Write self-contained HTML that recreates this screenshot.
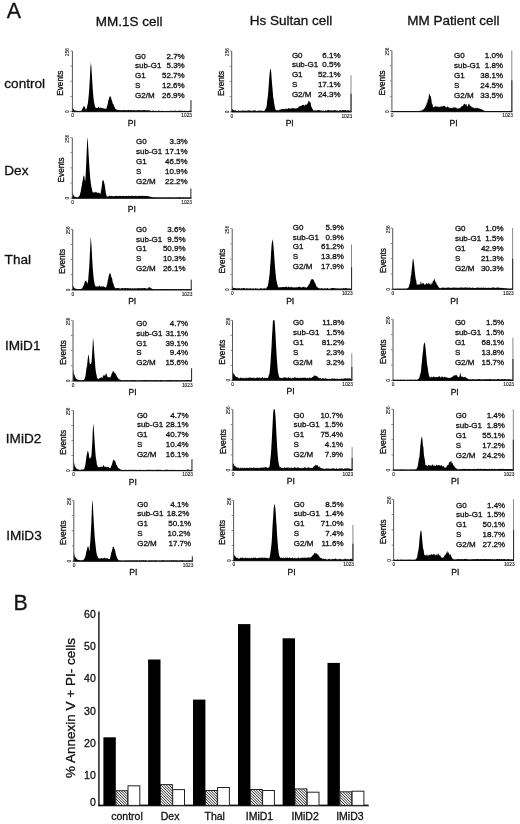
<!DOCTYPE html>
<html><head><meta charset="utf-8"><style>
html,body{margin:0;padding:0;background:#fff;}
svg{display:block;filter:blur(0.3px);}
text{font-family:"Liberation Sans",sans-serif;fill:#111;stroke:#111;stroke-width:0.3px;}
text.t{stroke-width:0.1px;}
</style></head><body>
<svg width="520" height="824" viewBox="0 0 520 824">
<defs>
<pattern id="hatch" patternUnits="userSpaceOnUse" width="1.95" height="1.95" patternTransform="rotate(-45)">
<rect width="1.95" height="1.95" fill="#fff"/><rect x="0" y="0" width="0.85" height="1.95" fill="#222"/>
</pattern>
</defs>

<text transform="translate(6.8,18.3) scale(0.93,1)" font-size="23">A</text>
<text transform="translate(13.6,609.9) scale(0.93,1)" font-size="23">B</text>
<text x="129.2" y="25.6" font-size="13.5" text-anchor="middle">MM.1S cell</text>
<text x="291" y="25.4" font-size="13.5" text-anchor="middle">Hs Sultan cell</text>
<text x="453.4" y="25.2" font-size="13.5" text-anchor="middle">MM Patient cell</text>
<text x="4.3" y="88.2" font-size="13.6">control</text>
<text x="4.3" y="175.2" font-size="13.6">Dex</text>
<text x="4.6" y="264.0" font-size="13.6">Thal</text>
<text x="5.0" y="350.2" font-size="13.6">IMiD1</text>
<text x="5.8" y="442.7" font-size="13.6">IMiD2</text>
<text x="6.2" y="539.8" font-size="13.6">IMiD3</text>
<path d="M72.4,111.6 L72.4,106.8 L72.9,108.0 L73.4,109.1 L73.9,109.4 L74.4,110.4 L74.9,110.3 L75.4,110.8 L75.9,110.5 L76.4,110.5 L76.9,111.0 L77.4,110.8 L77.9,110.9 L78.4,110.9 L78.9,111.0 L79.4,110.9 L79.9,111.0 L80.4,110.8 L80.9,111.0 L81.4,110.4 L81.9,110.0 L82.4,108.6 L82.9,108.3 L83.4,106.5 L83.9,105.9 L84.0,105.8 L84.4,106.7 L84.9,106.9 L85.4,108.5 L85.9,109.9 L86.4,108.7 L86.9,107.8 L87.4,105.3 L87.9,103.0 L88.4,98.5 L88.9,93.2 L89.4,86.3 L89.9,78.2 L90.4,67.5 L90.9,62.1 L91.4,67.5 L91.9,75.6 L92.4,83.7 L92.9,90.9 L93.4,96.7 L93.9,101.5 L94.4,103.7 L94.9,106.0 L95.4,107.6 L95.9,107.7 L96.4,107.9 L96.9,108.0 L97.4,108.0 L97.9,107.7 L98.4,106.9 L98.5,106.5 L98.9,107.0 L99.4,108.4 L99.9,108.0 L100.4,107.4 L100.9,107.4 L101.4,107.8 L101.9,108.0 L102.4,108.5 L102.9,107.9 L103.4,108.2 L103.9,108.4 L104.4,108.4 L104.9,108.8 L105.4,108.7 L105.9,109.1 L106.4,108.4 L106.9,106.8 L107.4,105.2 L107.9,102.9 L108.4,100.1 L108.9,99.5 L109.4,97.1 L109.8,96.5 L109.9,95.7 L110.4,96.8 L110.9,97.1 L111.4,99.3 L111.9,100.5 L112.4,102.1 L112.9,104.2 L113.4,103.7 L113.9,105.9 L114.4,106.8 L114.9,107.6 L115.4,108.9 L115.9,109.2 L116.4,109.2 L116.9,110.1 L117.4,109.8 L117.9,110.1 L118.4,110.3 L118.9,110.1 L119.4,110.3 L119.9,110.1 L120.4,110.2 L120.9,110.0 L121.4,110.4 L121.9,110.3 L122.4,109.9 L122.9,110.3 L123.4,109.9 L123.9,110.2 L124.4,110.0 L124.9,109.9 L125.4,110.1 L125.9,110.4 L126.4,110.2 L126.9,110.0 L127.4,110.2 L127.9,110.3 L128.4,110.0 L128.9,109.8 L129.4,110.2 L129.9,110.5 L130.4,110.0 L130.9,109.9 L131.4,110.1 L131.9,110.2 L132.4,110.3 L132.9,110.4 L133.4,110.0 L133.9,110.1 L134.4,110.0 L134.9,110.4 L135.4,110.4 L135.9,110.0 L136.4,110.4 L136.9,110.1 L137.4,110.4 L137.9,110.0 L138.4,110.0 L138.9,109.9 L139.4,110.2 L139.9,110.2 L140.4,110.1 L140.9,110.5 L141.4,110.2 L141.9,110.2 L142.4,110.4 L142.9,109.8 L143.4,110.3 L143.9,110.1 L144.4,110.0 L144.9,110.0 L145.4,110.2 L145.9,110.4 L146.4,110.4 L146.9,110.2 L147.4,110.1 L147.9,110.3 L148.4,110.5 L148.9,110.2 L149.4,110.5 L149.9,110.5 L150.4,110.5 L150.9,110.9 L151.4,110.9 L151.9,111.0 L152.4,110.7 L152.9,110.6 L153.4,110.6 L153.9,110.8 L154.4,111.1 L154.9,111.0 L155.4,110.6 L155.9,111.0 L156.4,110.9 L156.9,111.0 L157.4,111.1 L157.9,111.1 L158.4,110.6 L158.9,110.6 L159.4,110.7 L159.9,111.1 L160.4,111.1 L160.9,110.8 L161.4,111.1 L161.9,110.7 L162.4,110.8 L162.9,110.9 L163.4,111.0 L163.9,111.1 L164.4,110.9 L164.9,111.1 L165.4,111.1 L165.9,111.0 L166.4,110.9 L166.9,110.8 L167.4,111.2 L167.9,110.9 L168.4,110.9 L168.9,110.7 L169.4,110.9 L169.9,111.0 L170.4,110.8 L170.9,110.6 L171.4,110.8 L171.9,111.1 L172.4,110.7 L172.9,110.7 L173.4,111.0 L173.9,110.7 L174.4,110.8 L174.9,110.8 L175.4,110.6 L175.9,110.8 L176.4,111.0 L176.9,110.8 L177.4,111.1 L177.9,110.7 L178.4,110.9 L178.9,110.7 L179.4,110.6 L179.9,110.8 L180.4,110.6 L180.9,111.1 L181.4,110.7 L181.9,110.8 L182.4,110.6 L182.9,110.9 L183.4,110.9 L183.9,111.0 L184.4,110.6 L184.9,111.1 L185.4,110.9 L185.9,111.0 L186.4,110.7 L186.9,111.1 L187.4,111.2 L187.9,110.8 L188.4,111.0 L188.9,110.8 L189.4,110.8 L189.9,110.8 L190.4,110.7 L190.9,110.8 L191.4,110.7 L191.4,111.6 Z" fill="#000"/>
<rect x="190.4" y="100.1" width="1.1" height="11.5" fill="#333"/>
<rect x="71.9" y="50.9" width="1" height="60.7" fill="#555"/>
<rect x="71.9" y="111.0" width="119.5" height="1.2" fill="#111"/>
<rect x="70.4" y="50.5" width="1.5" height="0.8" fill="#666"/>
<rect x="70.4" y="65.7" width="1.5" height="0.8" fill="#666"/>
<rect x="70.4" y="80.8" width="1.5" height="0.8" fill="#666"/>
<rect x="70.4" y="96.0" width="1.5" height="0.8" fill="#666"/>
<rect x="70.4" y="111.2" width="1.5" height="0.8" fill="#666"/>
<text class="t" font-size="4.6" transform="translate(69.4,52.1) rotate(-90)" text-anchor="middle">256</text>
<text class="t" font-size="4.8" transform="translate(69.4,111.6) rotate(-90)" text-anchor="middle">0</text>
<text class="t" font-size="4.8" x="72.6" y="117.4" text-anchor="middle">0</text>
<text class="t" font-size="4.8" x="192.0" y="117.4" text-anchor="end">1023</text>
<text font-size="8.2" transform="translate(63.4,83.2) rotate(-90)" text-anchor="middle">Events</text>
<text font-size="8.6" x="131.9" y="125.8" text-anchor="middle">PI</text>
<text font-size="8" x="135.1" y="58.5">G0</text>
<text font-size="8" x="184.7" y="58.5" text-anchor="end">2.7%</text>
<text font-size="8" x="135.1" y="68.2">sub-G1</text>
<text font-size="8" x="184.7" y="68.2" text-anchor="end">5.3%</text>
<text font-size="8" x="135.1" y="78.0">G1</text>
<text font-size="8" x="184.7" y="78.0" text-anchor="end">52.7%</text>
<text font-size="8" x="135.1" y="87.8">S</text>
<text font-size="8" x="184.7" y="87.8" text-anchor="end">12.6%</text>
<text font-size="8" x="135.1" y="97.5">G2/M</text>
<text font-size="8" x="184.7" y="97.5" text-anchor="end">26.9%</text>
<path d="M72.3,198.2 L72.3,190.5 L72.8,194.2 L73.3,194.5 L73.8,195.8 L74.3,196.2 L74.8,196.9 L75.3,197.0 L75.8,196.8 L76.3,197.2 L76.8,197.5 L77.3,197.6 L77.8,197.3 L78.3,196.7 L78.8,196.4 L79.3,196.2 L79.8,195.1 L80.3,193.0 L80.8,191.3 L81.3,188.1 L81.8,185.4 L82.3,182.3 L82.8,179.9 L83.3,176.7 L83.8,175.3 L84.0,175.7 L84.3,176.3 L84.8,180.1 L85.3,180.9 L85.8,172.2 L86.3,162.0 L86.8,149.3 L87.3,137.8 L87.4,137.6 L87.8,140.4 L88.3,149.1 L88.8,157.4 L89.3,166.1 L89.8,172.5 L90.3,179.0 L90.8,182.7 L91.3,186.6 L91.8,188.6 L92.3,191.0 L92.8,192.4 L93.3,192.3 L93.8,192.5 L94.3,192.8 L94.8,192.0 L95.3,192.5 L95.8,191.5 L96.0,192.2 L96.3,192.1 L96.8,192.6 L97.3,192.8 L97.8,193.2 L98.3,192.3 L98.8,192.9 L99.3,193.3 L99.8,192.9 L100.3,194.3 L100.8,192.0 L101.3,189.5 L101.8,185.9 L102.3,181.5 L102.8,179.9 L103.2,179.7 L103.3,180.7 L103.8,180.9 L104.3,183.6 L104.8,185.3 L105.3,189.2 L105.8,192.8 L106.3,194.9 L106.8,196.5 L107.3,196.5 L107.8,196.7 L108.3,196.6 L108.8,196.2 L109.3,195.8 L109.8,195.6 L110.3,196.2 L110.8,196.1 L111.3,195.8 L111.8,196.1 L112.3,196.0 L112.8,196.4 L113.3,196.2 L113.8,196.0 L114.3,196.3 L114.8,196.2 L115.3,196.0 L115.8,195.9 L116.3,195.8 L116.8,195.7 L117.3,196.0 L117.8,196.2 L118.3,196.0 L118.8,196.3 L119.3,195.9 L119.8,195.7 L120.3,196.0 L120.8,195.8 L121.3,196.0 L121.8,196.2 L122.3,195.7 L122.8,196.2 L123.3,196.0 L123.8,196.0 L124.3,196.2 L124.8,195.8 L125.3,196.0 L125.8,196.0 L126.3,196.0 L126.8,195.9 L127.3,196.3 L127.8,195.9 L128.3,195.6 L128.8,196.2 L129.3,195.7 L129.8,195.9 L130.3,196.0 L130.8,196.0 L131.3,196.0 L131.8,195.6 L132.3,195.6 L132.8,196.2 L133.3,196.1 L133.8,195.9 L134.3,195.7 L134.8,196.1 L135.3,195.7 L135.8,196.1 L136.3,196.4 L136.8,195.5 L137.3,196.1 L137.8,196.2 L138.3,195.8 L138.8,196.0 L139.3,196.1 L139.8,195.6 L140.3,196.1 L140.8,196.0 L141.3,195.8 L141.8,195.9 L142.3,195.6 L142.8,196.1 L143.3,196.3 L143.8,195.7 L144.3,196.1 L144.8,196.1 L145.3,195.7 L145.8,196.0 L146.3,196.0 L146.8,195.9 L147.3,195.9 L147.8,196.3 L148.3,196.3 L148.8,196.2 L149.3,196.7 L149.8,196.4 L150.3,196.6 L150.8,196.7 L151.3,196.9 L151.8,196.9 L152.3,197.0 L152.8,197.4 L153.3,197.3 L153.8,197.2 L154.3,197.3 L154.8,197.6 L155.3,197.4 L155.8,197.2 L156.3,197.7 L156.8,197.3 L157.3,197.3 L157.8,197.4 L158.3,197.6 L158.8,197.7 L159.3,197.3 L159.8,197.3 L160.3,197.5 L160.8,197.3 L161.3,197.7 L161.8,197.5 L162.3,197.6 L162.8,197.4 L163.3,197.6 L163.8,197.5 L164.3,197.3 L164.8,197.4 L165.3,197.5 L165.8,197.7 L166.3,197.6 L166.8,197.3 L167.3,197.5 L167.8,197.7 L168.3,197.5 L168.8,197.3 L169.3,197.4 L169.8,197.6 L170.3,197.6 L170.8,197.2 L171.3,197.3 L171.8,197.6 L172.3,197.7 L172.8,197.7 L173.3,197.6 L173.8,197.2 L174.3,197.4 L174.8,197.6 L175.3,197.6 L175.8,197.4 L176.3,197.6 L176.8,197.6 L177.3,197.4 L177.8,197.3 L178.3,197.3 L178.8,197.5 L179.3,197.2 L179.8,197.3 L180.3,197.2 L180.8,197.2 L181.3,197.4 L181.8,197.5 L182.3,197.7 L182.8,197.6 L183.3,197.2 L183.8,197.2 L184.3,197.7 L184.8,197.6 L185.3,197.2 L185.8,197.5 L186.3,197.6 L186.8,197.5 L187.3,197.4 L187.8,197.6 L188.3,197.7 L188.8,197.6 L189.3,197.5 L189.8,197.6 L190.3,197.6 L190.8,197.6 L191.3,197.3 L191.3,198.2 Z" fill="#000"/>
<rect x="190.3" y="188.5" width="1.1" height="9.7" fill="#333"/>
<rect x="71.8" y="137.6" width="1" height="60.6" fill="#555"/>
<rect x="71.8" y="197.6" width="119.5" height="1.2" fill="#111"/>
<rect x="70.3" y="137.2" width="1.5" height="0.8" fill="#666"/>
<rect x="70.3" y="152.3" width="1.5" height="0.8" fill="#666"/>
<rect x="70.3" y="167.5" width="1.5" height="0.8" fill="#666"/>
<rect x="70.3" y="182.6" width="1.5" height="0.8" fill="#666"/>
<rect x="70.3" y="197.8" width="1.5" height="0.8" fill="#666"/>
<text class="t" font-size="4.6" transform="translate(69.3,138.8) rotate(-90)" text-anchor="middle">256</text>
<text class="t" font-size="4.8" transform="translate(69.3,198.2) rotate(-90)" text-anchor="middle">0</text>
<text class="t" font-size="4.8" x="72.5" y="204.0" text-anchor="middle">0</text>
<text class="t" font-size="4.8" x="191.9" y="204.0" text-anchor="end">1023</text>
<text font-size="8.2" transform="translate(64.0,169.9) rotate(-90)" text-anchor="middle">Events</text>
<text font-size="8.6" x="131.8" y="212.4" text-anchor="middle">PI</text>
<text font-size="8" x="136.0" y="144.4">G0</text>
<text font-size="8" x="187.7" y="144.4" text-anchor="end">3.3%</text>
<text font-size="8" x="136.0" y="154.2">sub-G1</text>
<text font-size="8" x="187.7" y="154.2" text-anchor="end">17.1%</text>
<text font-size="8" x="136.0" y="164.0">G1</text>
<text font-size="8" x="187.7" y="164.0" text-anchor="end">46.5%</text>
<text font-size="8" x="136.0" y="173.7">S</text>
<text font-size="8" x="187.7" y="173.7" text-anchor="end">10.9%</text>
<text font-size="8" x="136.0" y="183.5">G2/M</text>
<text font-size="8" x="187.7" y="183.5" text-anchor="end">22.2%</text>
<path d="M72.7,289.9 L72.7,284.6 L73.2,286.0 L73.7,287.2 L74.2,287.8 L74.7,288.5 L75.2,288.5 L75.7,288.8 L76.2,289.1 L76.7,288.8 L77.2,288.9 L77.7,289.3 L78.2,289.1 L78.7,289.4 L79.2,289.2 L79.7,288.9 L80.2,288.9 L80.7,288.9 L81.2,288.6 L81.7,288.8 L82.2,288.4 L82.7,287.2 L83.2,286.4 L83.7,285.2 L84.2,284.0 L84.7,282.3 L85.2,281.1 L85.7,280.4 L85.8,281.2 L86.2,280.6 L86.7,281.9 L87.2,284.0 L87.7,282.4 L88.2,280.0 L88.7,273.1 L89.2,267.3 L89.7,257.9 L90.2,247.2 L90.7,237.5 L90.8,237.0 L91.2,241.4 L91.7,249.5 L92.2,258.9 L92.7,267.5 L93.2,273.2 L93.7,278.6 L94.2,281.5 L94.7,284.4 L95.2,285.7 L95.7,286.6 L96.2,286.6 L96.7,286.4 L97.2,286.4 L97.7,286.2 L98.2,286.4 L98.7,286.7 L99.2,285.4 L99.5,285.8 L99.7,285.7 L100.2,286.7 L100.7,286.6 L101.2,286.4 L101.7,286.4 L102.2,286.2 L102.7,287.1 L103.2,286.1 L103.7,286.8 L104.2,286.7 L104.7,287.1 L105.2,287.2 L105.7,287.7 L106.2,287.2 L106.7,285.4 L107.2,284.0 L107.7,280.8 L108.2,279.1 L108.7,275.9 L109.2,274.7 L109.7,272.8 L109.8,272.9 L110.2,273.8 L110.7,273.8 L111.2,276.6 L111.7,277.8 L112.2,278.8 L112.7,282.3 L113.2,282.9 L113.7,284.7 L114.2,286.6 L114.7,287.2 L115.2,288.0 L115.7,288.3 L116.2,288.4 L116.7,288.1 L117.2,287.9 L117.7,288.0 L118.2,288.3 L118.7,288.0 L119.2,288.2 L119.7,288.4 L120.2,288.6 L120.7,288.4 L121.2,288.5 L121.7,288.1 L122.2,287.9 L122.7,288.1 L123.2,288.2 L123.7,288.5 L124.2,288.2 L124.7,288.0 L125.2,288.3 L125.7,288.1 L126.2,288.1 L126.7,288.5 L127.2,288.1 L127.7,288.2 L128.2,288.0 L128.7,288.5 L129.2,288.0 L129.7,288.5 L130.2,288.3 L130.7,288.3 L131.2,288.5 L131.7,288.6 L132.2,288.6 L132.7,287.9 L133.2,288.4 L133.7,288.4 L134.2,288.2 L134.7,288.3 L135.2,288.4 L135.7,288.3 L136.2,288.3 L136.7,288.5 L137.2,288.2 L137.7,288.3 L138.2,288.1 L138.7,288.4 L139.2,288.1 L139.7,288.2 L140.2,288.4 L140.7,288.1 L141.2,288.4 L141.7,288.1 L142.2,288.2 L142.7,288.0 L143.2,288.3 L143.7,288.2 L144.2,288.0 L144.7,288.1 L145.2,288.2 L145.7,288.3 L146.2,288.6 L146.7,288.6 L147.2,288.7 L147.7,288.2 L148.2,287.7 L148.7,287.4 L149.2,287.1 L149.3,287.1 L149.7,287.6 L150.2,287.5 L150.7,288.2 L151.2,288.1 L151.7,288.8 L152.2,288.7 L152.7,289.2 L153.2,289.0 L153.7,289.2 L154.2,289.2 L154.7,289.2 L155.2,289.1 L155.7,289.2 L156.2,289.4 L156.7,289.0 L157.2,289.2 L157.7,289.1 L158.2,289.4 L158.7,289.0 L159.2,289.2 L159.7,289.0 L160.2,289.3 L160.7,289.1 L161.2,289.3 L161.7,288.9 L162.2,289.1 L162.7,289.0 L163.2,289.3 L163.7,289.4 L164.2,289.2 L164.7,289.3 L165.2,289.0 L165.7,288.9 L166.2,289.1 L166.7,289.0 L167.2,289.1 L167.7,289.0 L168.2,289.2 L168.7,288.9 L169.2,289.3 L169.7,289.0 L170.2,288.9 L170.7,289.3 L171.2,289.3 L171.7,289.1 L172.2,288.9 L172.7,289.0 L173.2,289.2 L173.7,289.4 L174.2,289.0 L174.7,289.3 L175.2,289.1 L175.7,289.3 L176.2,289.2 L176.7,289.1 L177.2,289.2 L177.7,289.4 L178.2,289.1 L178.7,288.9 L179.2,289.4 L179.7,289.2 L180.2,289.0 L180.7,289.1 L181.2,289.0 L181.7,289.0 L182.2,289.1 L182.7,289.4 L183.2,289.3 L183.7,289.1 L184.2,289.4 L184.7,289.1 L185.2,288.9 L185.7,289.4 L186.2,289.4 L186.7,289.0 L187.2,289.1 L187.7,289.2 L188.2,289.4 L188.7,289.0 L189.2,289.1 L189.7,289.3 L190.2,289.2 L190.7,289.4 L191.2,289.3 L191.7,289.3 L191.7,289.9 Z" fill="#000"/>
<rect x="190.7" y="279.6" width="1.1" height="10.3" fill="#333"/>
<rect x="72.2" y="229.2" width="1" height="60.7" fill="#555"/>
<rect x="72.2" y="289.3" width="119.5" height="1.2" fill="#111"/>
<rect x="70.7" y="228.8" width="1.5" height="0.8" fill="#666"/>
<rect x="70.7" y="244.0" width="1.5" height="0.8" fill="#666"/>
<rect x="70.7" y="259.1" width="1.5" height="0.8" fill="#666"/>
<rect x="70.7" y="274.3" width="1.5" height="0.8" fill="#666"/>
<rect x="70.7" y="289.5" width="1.5" height="0.8" fill="#666"/>
<text class="t" font-size="4.6" transform="translate(69.7,230.4) rotate(-90)" text-anchor="middle">256</text>
<text class="t" font-size="4.8" transform="translate(69.7,289.9) rotate(-90)" text-anchor="middle">0</text>
<text class="t" font-size="4.8" x="72.9" y="295.7" text-anchor="middle">0</text>
<text class="t" font-size="4.8" x="192.3" y="295.7" text-anchor="end">1023</text>
<text font-size="8.2" transform="translate(65.1,261.5) rotate(-90)" text-anchor="middle">Events</text>
<text font-size="8.6" x="132.2" y="304.1" text-anchor="middle">PI</text>
<text font-size="8" x="136.0" y="232.0">G0</text>
<text font-size="8" x="185.6" y="232.0" text-anchor="end">3.6%</text>
<text font-size="8" x="136.0" y="241.7">sub-G1</text>
<text font-size="8" x="185.6" y="241.7" text-anchor="end">9.5%</text>
<text font-size="8" x="136.0" y="251.4">G1</text>
<text font-size="8" x="185.6" y="251.4" text-anchor="end">50.9%</text>
<text font-size="8" x="136.0" y="261.1">S</text>
<text font-size="8" x="185.6" y="261.1" text-anchor="end">10.3%</text>
<text font-size="8" x="136.0" y="270.8">G2/M</text>
<text font-size="8" x="185.6" y="270.8" text-anchor="end">26.1%</text>
<path d="M73.0,381.0 L73.0,368.8 L73.5,371.8 L74.0,374.5 L74.5,374.8 L75.0,376.7 L75.5,377.8 L76.0,378.8 L76.5,378.8 L77.0,379.0 L77.5,379.7 L78.0,379.7 L78.5,379.7 L79.0,380.2 L79.5,380.0 L80.0,380.3 L80.5,380.4 L81.0,380.0 L81.5,380.3 L82.0,380.2 L82.5,380.0 L83.0,380.2 L83.5,380.0 L84.0,379.8 L84.5,379.1 L85.0,377.8 L85.5,375.4 L86.0,371.9 L86.5,367.7 L87.0,366.3 L87.5,361.3 L88.0,357.0 L88.5,354.6 L88.6,353.7 L89.0,357.5 L89.5,362.5 L90.0,363.9 L90.5,363.9 L91.0,364.0 L91.5,362.3 L92.0,356.1 L92.5,348.1 L93.0,338.0 L93.1,338.3 L93.5,341.4 L94.0,349.4 L94.5,356.6 L95.0,362.9 L95.5,368.9 L96.0,372.8 L96.5,374.8 L97.0,377.6 L97.5,378.2 L98.0,379.3 L98.5,379.0 L99.0,378.4 L99.5,378.3 L100.0,377.7 L100.5,378.0 L101.0,377.5 L101.5,377.3 L102.0,377.8 L102.5,377.8 L103.0,376.3 L103.5,375.0 L104.0,375.6 L104.2,375.3 L104.5,375.1 L105.0,376.2 L105.5,374.6 L106.0,373.6 L106.2,373.5 L106.5,373.8 L107.0,375.7 L107.5,376.9 L108.0,377.0 L108.5,377.6 L109.0,377.3 L109.5,377.3 L110.0,377.3 L110.5,377.3 L111.0,376.0 L111.5,374.0 L112.0,373.6 L112.5,371.9 L113.0,370.7 L113.3,372.5 L113.5,371.2 L114.0,371.2 L114.5,373.3 L115.0,372.8 L115.5,373.8 L116.0,374.6 L116.5,375.6 L117.0,376.7 L117.5,377.6 L118.0,377.8 L118.5,378.7 L119.0,379.5 L119.5,379.5 L120.0,379.6 L120.5,380.0 L121.0,380.0 L121.5,379.9 L122.0,380.4 L122.5,380.3 L123.0,380.3 L123.5,380.3 L124.0,380.5 L124.5,380.2 L125.0,380.3 L125.5,380.1 L126.0,380.5 L126.5,380.4 L127.0,380.1 L127.5,380.1 L128.0,380.1 L128.5,380.5 L129.0,380.4 L129.5,380.0 L130.0,380.6 L130.5,380.2 L131.0,380.1 L131.5,380.5 L132.0,380.1 L132.5,380.1 L133.0,380.2 L133.5,380.2 L134.0,380.0 L134.5,380.0 L135.0,380.1 L135.5,380.2 L136.0,380.5 L136.5,380.4 L137.0,380.5 L137.5,380.5 L138.0,380.5 L138.5,380.3 L139.0,380.4 L139.5,380.5 L140.0,380.0 L140.5,380.2 L141.0,380.4 L141.5,380.6 L142.0,380.1 L142.5,380.1 L143.0,380.5 L143.5,380.3 L144.0,380.0 L144.5,380.0 L145.0,380.2 L145.5,380.1 L146.0,380.1 L146.5,380.0 L147.0,380.2 L147.5,380.2 L148.0,380.4 L148.5,380.2 L149.0,380.0 L149.5,380.3 L150.0,380.4 L150.5,380.6 L151.0,380.2 L151.5,380.2 L152.0,380.0 L152.5,380.5 L153.0,380.0 L153.5,380.0 L154.0,380.4 L154.5,380.4 L155.0,380.0 L155.5,380.1 L156.0,380.4 L156.5,380.0 L157.0,380.1 L157.5,380.2 L158.0,380.4 L158.5,380.5 L159.0,380.5 L159.5,380.5 L160.0,380.0 L160.5,380.0 L161.0,380.1 L161.5,380.0 L162.0,380.1 L162.5,380.2 L163.0,380.2 L163.5,380.5 L164.0,380.3 L164.5,380.5 L165.0,380.4 L165.5,380.2 L166.0,380.4 L166.5,380.3 L167.0,380.1 L167.5,380.0 L168.0,380.5 L168.5,380.1 L169.0,380.2 L169.5,380.1 L170.0,380.1 L170.5,380.2 L171.0,380.0 L171.5,380.1 L172.0,380.2 L172.5,380.2 L173.0,380.4 L173.5,380.0 L174.0,380.5 L174.5,380.4 L175.0,380.2 L175.5,380.0 L176.0,380.4 L176.5,380.0 L177.0,380.0 L177.5,380.2 L178.0,380.3 L178.5,380.4 L179.0,380.1 L179.5,380.2 L180.0,380.4 L180.5,380.5 L181.0,380.0 L181.5,380.5 L182.0,380.1 L182.5,380.6 L183.0,380.2 L183.5,380.6 L184.0,380.5 L184.5,380.5 L185.0,380.0 L185.5,380.1 L186.0,380.3 L186.5,380.5 L187.0,380.0 L187.5,380.1 L188.0,380.2 L188.5,380.2 L189.0,380.5 L189.5,380.0 L190.0,380.4 L190.5,380.3 L191.0,380.1 L191.5,380.2 L192.0,380.3 L192.0,381.0 Z" fill="#000"/>
<rect x="191.0" y="368.3" width="1.1" height="12.7" fill="#333"/>
<rect x="72.5" y="320.3" width="1" height="60.7" fill="#555"/>
<rect x="72.5" y="380.4" width="119.5" height="1.2" fill="#111"/>
<rect x="71.0" y="319.9" width="1.5" height="0.8" fill="#666"/>
<rect x="71.0" y="335.1" width="1.5" height="0.8" fill="#666"/>
<rect x="71.0" y="350.2" width="1.5" height="0.8" fill="#666"/>
<rect x="71.0" y="365.4" width="1.5" height="0.8" fill="#666"/>
<rect x="71.0" y="380.6" width="1.5" height="0.8" fill="#666"/>
<text class="t" font-size="4.6" transform="translate(70.0,321.5) rotate(-90)" text-anchor="middle">256</text>
<text class="t" font-size="4.8" transform="translate(70.0,381.0) rotate(-90)" text-anchor="middle">0</text>
<text class="t" font-size="4.8" x="73.2" y="386.8" text-anchor="middle">0</text>
<text class="t" font-size="4.8" x="192.6" y="386.8" text-anchor="end">1023</text>
<text font-size="8.2" transform="translate(65.6,352.6) rotate(-90)" text-anchor="middle">Events</text>
<text font-size="8.6" x="132.5" y="395.2" text-anchor="middle">PI</text>
<text font-size="8" x="136.2" y="326.0">G0</text>
<text font-size="8" x="188.1" y="326.0" text-anchor="end">4.7%</text>
<text font-size="8" x="136.2" y="335.8">sub-G1</text>
<text font-size="8" x="188.1" y="335.8" text-anchor="end">31.1%</text>
<text font-size="8" x="136.2" y="345.6">G1</text>
<text font-size="8" x="188.1" y="345.6" text-anchor="end">39.1%</text>
<text font-size="8" x="136.2" y="355.4">S</text>
<text font-size="8" x="188.1" y="355.4" text-anchor="end">9.4%</text>
<text font-size="8" x="136.2" y="365.2">G2/M</text>
<text font-size="8" x="188.1" y="365.2" text-anchor="end">15.6%</text>
<path d="M73.4,470.6 L73.4,459.9 L73.9,462.0 L74.4,464.2 L74.9,466.6 L75.4,466.7 L75.9,467.9 L76.4,468.6 L76.9,468.7 L77.4,469.3 L77.9,469.1 L78.4,469.6 L78.9,469.8 L79.4,469.9 L79.9,469.5 L80.4,469.9 L80.9,469.6 L81.4,469.5 L81.9,469.7 L82.4,469.6 L82.9,469.5 L83.4,469.6 L83.9,469.2 L84.4,468.4 L84.9,466.4 L85.4,464.4 L85.9,461.0 L86.4,456.6 L86.9,454.4 L87.4,451.9 L87.9,450.6 L88.0,450.5 L88.4,452.4 L88.9,454.2 L89.4,458.9 L89.9,458.1 L90.4,458.2 L90.9,456.8 L91.4,456.5 L91.9,448.6 L92.4,439.9 L92.9,428.2 L93.3,423.4 L93.4,424.3 L93.9,429.7 L94.4,438.3 L94.9,445.8 L95.4,452.7 L95.9,458.3 L96.4,460.6 L96.9,464.8 L97.4,465.5 L97.9,467.5 L98.4,466.9 L98.9,467.1 L99.4,467.0 L99.9,467.3 L100.4,466.9 L100.9,466.5 L101.4,466.6 L101.9,467.2 L102.4,466.9 L102.9,466.3 L103.4,465.0 L103.6,465.2 L103.9,465.6 L104.4,466.4 L104.9,467.2 L105.4,466.7 L105.9,466.5 L106.4,467.0 L106.9,467.4 L107.4,466.7 L107.9,467.1 L108.4,467.1 L108.9,467.4 L109.4,467.9 L109.9,468.4 L110.4,467.9 L110.9,467.0 L111.4,465.6 L111.9,464.8 L112.4,462.8 L112.9,460.9 L113.4,459.6 L113.6,460.1 L113.9,459.4 L114.4,460.7 L114.9,460.7 L115.4,461.4 L115.9,463.6 L116.4,465.0 L116.9,465.3 L117.4,466.4 L117.9,467.5 L118.4,468.0 L118.9,468.6 L119.4,468.8 L119.9,469.1 L120.4,469.7 L120.9,469.5 L121.4,469.6 L121.9,470.0 L122.4,470.0 L122.9,470.1 L123.4,470.0 L123.9,470.1 L124.4,469.9 L124.9,469.8 L125.4,469.6 L125.9,469.9 L126.4,469.9 L126.9,469.7 L127.4,470.1 L127.9,470.1 L128.4,470.0 L128.9,469.6 L129.4,469.9 L129.9,469.8 L130.4,470.1 L130.9,469.8 L131.4,469.6 L131.9,470.0 L132.4,470.2 L132.9,469.8 L133.4,470.1 L133.9,469.6 L134.4,469.9 L134.9,470.0 L135.4,469.9 L135.9,469.6 L136.4,470.0 L136.9,469.9 L137.4,470.0 L137.9,469.9 L138.4,469.9 L138.9,469.8 L139.4,470.0 L139.9,469.7 L140.4,469.9 L140.9,469.6 L141.4,470.0 L141.9,470.1 L142.4,470.0 L142.9,469.9 L143.4,469.8 L143.9,470.1 L144.4,470.0 L144.9,470.0 L145.4,469.9 L145.9,470.0 L146.4,469.8 L146.9,470.0 L147.4,469.6 L147.9,469.9 L148.4,469.7 L148.9,469.8 L149.4,469.8 L149.9,469.6 L150.4,469.9 L150.9,470.1 L151.4,469.7 L151.9,469.7 L152.4,469.9 L152.9,469.7 L153.4,470.1 L153.9,469.8 L154.4,470.0 L154.9,469.8 L155.4,470.1 L155.9,469.7 L156.4,469.8 L156.9,469.7 L157.4,469.6 L157.9,470.1 L158.4,470.0 L158.9,469.6 L159.4,470.1 L159.9,469.6 L160.4,469.8 L160.9,470.1 L161.4,470.1 L161.9,469.9 L162.4,470.1 L162.9,469.7 L163.4,470.1 L163.9,470.0 L164.4,469.9 L164.9,469.9 L165.4,469.8 L165.9,469.8 L166.4,469.6 L166.9,469.8 L167.4,469.8 L167.9,469.7 L168.4,470.1 L168.9,470.0 L169.4,470.1 L169.9,469.8 L170.4,469.8 L170.9,470.1 L171.4,470.0 L171.9,469.9 L172.4,469.7 L172.9,469.7 L173.4,470.1 L173.9,469.8 L174.4,470.1 L174.9,469.8 L175.4,470.1 L175.9,470.0 L176.4,470.0 L176.9,470.0 L177.4,470.1 L177.9,469.8 L178.4,469.9 L178.9,469.9 L179.4,469.8 L179.9,469.9 L180.4,470.1 L180.9,470.1 L181.4,469.9 L181.9,470.2 L182.4,469.7 L182.9,469.9 L183.4,470.1 L183.9,470.1 L184.4,469.9 L184.9,470.1 L185.4,470.0 L185.9,470.0 L186.4,469.9 L186.9,469.6 L187.4,469.6 L187.9,469.8 L188.4,469.6 L188.9,469.8 L189.4,469.8 L189.9,470.1 L190.4,470.2 L190.9,470.1 L191.4,469.6 L191.9,470.0 L192.4,470.0 L192.4,470.6 Z" fill="#000"/>
<rect x="191.4" y="459.1" width="1.1" height="11.5" fill="#333"/>
<rect x="72.9" y="410.3" width="1" height="60.3" fill="#555"/>
<rect x="72.9" y="470.0" width="119.5" height="1.2" fill="#111"/>
<rect x="71.4" y="409.9" width="1.5" height="0.8" fill="#666"/>
<rect x="71.4" y="425.0" width="1.5" height="0.8" fill="#666"/>
<rect x="71.4" y="440.1" width="1.5" height="0.8" fill="#666"/>
<rect x="71.4" y="455.1" width="1.5" height="0.8" fill="#666"/>
<rect x="71.4" y="470.2" width="1.5" height="0.8" fill="#666"/>
<text class="t" font-size="4.6" transform="translate(70.4,411.5) rotate(-90)" text-anchor="middle">256</text>
<text class="t" font-size="4.8" transform="translate(70.4,470.6) rotate(-90)" text-anchor="middle">0</text>
<text class="t" font-size="4.8" x="73.6" y="476.4" text-anchor="middle">0</text>
<text class="t" font-size="4.8" x="193.0" y="476.4" text-anchor="end">1023</text>
<text font-size="8.2" transform="translate(65.6,442.5) rotate(-90)" text-anchor="middle">Events</text>
<text font-size="8.6" x="132.9" y="484.8" text-anchor="middle">PI</text>
<text font-size="8" x="136.9" y="417.5">G0</text>
<text font-size="8" x="188.5" y="417.5" text-anchor="end">4.7%</text>
<text font-size="8" x="136.9" y="427.4">sub-G1</text>
<text font-size="8" x="188.5" y="427.4" text-anchor="end">28.1%</text>
<text font-size="8" x="136.9" y="437.4">G1</text>
<text font-size="8" x="188.5" y="437.4" text-anchor="end">40.7%</text>
<text font-size="8" x="136.9" y="447.3">S</text>
<text font-size="8" x="188.5" y="447.3" text-anchor="end">10.4%</text>
<text font-size="8" x="136.9" y="457.3">G2/M</text>
<text font-size="8" x="188.5" y="457.3" text-anchor="end">16.1%</text>
<path d="M73.8,561.2 L73.8,551.2 L74.3,554.4 L74.8,556.4 L75.3,557.0 L75.8,557.9 L76.3,558.6 L76.8,559.1 L77.3,559.4 L77.8,559.8 L78.3,560.1 L78.8,560.0 L79.3,560.3 L79.8,560.1 L80.3,560.3 L80.8,560.5 L81.3,560.5 L81.8,560.4 L82.3,560.3 L82.8,560.0 L83.3,560.0 L83.8,559.5 L84.3,558.6 L84.8,558.3 L85.3,556.4 L85.8,554.6 L86.3,551.4 L86.8,550.2 L87.3,547.9 L87.8,546.3 L88.0,546.2 L88.3,546.3 L88.8,548.4 L89.3,551.5 L89.8,546.9 L90.3,541.3 L90.8,533.3 L91.3,523.7 L91.8,510.6 L92.3,500.3 L92.4,500.3 L92.8,503.6 L93.3,513.5 L93.8,522.2 L94.3,530.9 L94.8,538.2 L95.3,543.0 L95.8,547.6 L96.3,552.0 L96.8,554.3 L97.3,555.9 L97.8,556.8 L98.3,558.2 L98.8,558.2 L99.3,558.5 L99.8,558.6 L100.3,558.5 L100.8,558.3 L101.3,558.0 L101.8,558.2 L102.3,558.4 L102.8,558.4 L103.3,557.9 L103.8,558.5 L104.3,557.8 L104.5,557.6 L104.8,557.7 L105.3,558.1 L105.8,558.4 L106.3,558.3 L106.8,558.4 L107.3,558.1 L107.8,558.6 L108.3,558.9 L108.8,558.9 L109.3,559.2 L109.8,558.7 L110.3,557.4 L110.8,555.0 L111.3,552.6 L111.8,551.2 L112.3,549.6 L112.8,546.7 L113.3,546.7 L113.8,547.1 L114.3,548.9 L114.8,549.2 L115.3,551.3 L115.8,554.0 L116.3,556.0 L116.8,556.9 L117.3,558.5 L117.8,559.3 L118.3,559.8 L118.8,560.4 L119.3,560.2 L119.8,560.4 L120.3,560.6 L120.8,560.7 L121.3,560.3 L121.8,560.4 L122.3,560.7 L122.8,560.7 L123.3,560.5 L123.8,560.7 L124.3,560.5 L124.8,560.5 L125.3,560.6 L125.8,560.4 L126.3,560.6 L126.8,560.4 L127.3,560.5 L127.8,560.6 L128.3,560.4 L128.8,560.4 L129.3,560.6 L129.8,560.5 L130.3,560.2 L130.8,560.4 L131.3,560.4 L131.8,560.5 L132.3,560.2 L132.8,560.4 L133.3,560.7 L133.8,560.3 L134.3,560.3 L134.8,560.5 L135.3,560.4 L135.8,560.6 L136.3,560.2 L136.8,560.5 L137.3,560.3 L137.8,560.4 L138.3,560.7 L138.8,560.7 L139.3,560.3 L139.8,560.3 L140.3,560.6 L140.8,560.6 L141.3,560.3 L141.8,560.6 L142.3,560.6 L142.8,560.3 L143.3,560.3 L143.8,560.3 L144.3,560.4 L144.8,560.5 L145.3,560.2 L145.8,560.2 L146.3,560.5 L146.8,560.7 L147.3,560.8 L147.8,560.8 L148.3,560.7 L148.8,560.6 L149.3,560.5 L149.8,560.2 L150.3,560.4 L150.8,560.4 L151.3,560.6 L151.8,560.2 L152.3,560.5 L152.8,560.4 L153.3,560.3 L153.8,560.7 L154.3,560.5 L154.8,560.5 L155.3,560.3 L155.8,560.3 L156.3,560.7 L156.8,560.3 L157.3,560.6 L157.8,560.7 L158.3,560.3 L158.8,560.8 L159.3,560.7 L159.8,560.3 L160.3,560.7 L160.8,560.7 L161.3,560.3 L161.8,560.2 L162.3,560.3 L162.8,560.5 L163.3,560.3 L163.8,560.3 L164.3,560.3 L164.8,560.7 L165.3,560.4 L165.8,560.7 L166.3,560.7 L166.8,560.3 L167.3,560.2 L167.8,560.7 L168.3,560.7 L168.8,560.2 L169.3,560.7 L169.8,560.3 L170.3,560.5 L170.8,560.4 L171.3,560.3 L171.8,560.3 L172.3,560.4 L172.8,560.6 L173.3,560.2 L173.8,560.2 L174.3,560.7 L174.8,560.3 L175.3,560.4 L175.8,560.3 L176.3,560.3 L176.8,560.4 L177.3,560.5 L177.8,560.5 L178.3,560.7 L178.8,560.8 L179.3,560.2 L179.8,560.5 L180.3,560.7 L180.8,560.3 L181.3,560.3 L181.8,560.6 L182.3,560.6 L182.8,560.2 L183.3,560.2 L183.8,560.7 L184.3,560.4 L184.8,560.8 L185.3,560.5 L185.8,560.7 L186.3,560.8 L186.8,560.6 L187.3,560.7 L187.8,560.4 L188.3,560.6 L188.8,560.4 L189.3,560.2 L189.8,560.7 L190.3,560.2 L190.8,560.5 L191.3,560.6 L191.8,560.7 L192.3,560.4 L192.8,560.4 L192.8,561.2 Z" fill="#000"/>
<rect x="191.8" y="556.3" width="1.1" height="4.9" fill="#333"/>
<rect x="73.3" y="500.3" width="1" height="60.9" fill="#555"/>
<rect x="73.3" y="560.6" width="119.5" height="1.2" fill="#111"/>
<rect x="71.8" y="499.9" width="1.5" height="0.8" fill="#666"/>
<rect x="71.8" y="515.1" width="1.5" height="0.8" fill="#666"/>
<rect x="71.8" y="530.4" width="1.5" height="0.8" fill="#666"/>
<rect x="71.8" y="545.6" width="1.5" height="0.8" fill="#666"/>
<rect x="71.8" y="560.8" width="1.5" height="0.8" fill="#666"/>
<text class="t" font-size="4.6" transform="translate(70.8,501.5) rotate(-90)" text-anchor="middle">256</text>
<text class="t" font-size="4.8" transform="translate(70.8,561.2) rotate(-90)" text-anchor="middle">0</text>
<text class="t" font-size="4.8" x="74.0" y="567.0" text-anchor="middle">0</text>
<text class="t" font-size="4.8" x="193.4" y="567.0" text-anchor="end">1023</text>
<text font-size="8.2" transform="translate(65.6,532.8) rotate(-90)" text-anchor="middle">Events</text>
<text font-size="8.6" x="133.3" y="575.4" text-anchor="middle">PI</text>
<text font-size="8" x="137.2" y="506.5">G0</text>
<text font-size="8" x="188.6" y="506.5" text-anchor="end">4.1%</text>
<text font-size="8" x="137.2" y="516.4">sub-G1</text>
<text font-size="8" x="189.4" y="516.4" text-anchor="end">18.2%</text>
<text font-size="8" x="137.2" y="526.4">G1</text>
<text font-size="8" x="191.0" y="526.4" text-anchor="end">50.1%</text>
<text font-size="8" x="137.2" y="536.3">S</text>
<text font-size="8" x="190.3" y="536.3" text-anchor="end">10.2%</text>
<text font-size="8" x="137.2" y="546.3">G2/M</text>
<text font-size="8" x="191.2" y="546.3" text-anchor="end">17.7%</text>
<path d="M231.7,111.9 L231.7,108.1 L232.2,109.0 L232.7,109.5 L233.2,109.9 L233.7,110.2 L234.2,110.7 L234.7,110.1 L235.2,110.8 L235.7,110.1 L236.2,110.7 L236.7,111.1 L237.2,110.9 L237.7,111.0 L238.2,110.4 L238.7,110.6 L239.2,110.8 L239.7,111.1 L240.2,111.0 L240.7,110.7 L241.2,110.6 L241.7,110.9 L242.2,110.5 L242.7,110.6 L243.2,110.3 L243.7,110.9 L244.2,111.1 L244.7,110.4 L245.2,110.7 L245.7,110.5 L246.2,110.6 L246.7,110.9 L247.2,110.6 L247.7,110.7 L248.2,110.2 L248.7,110.5 L249.2,110.5 L249.7,110.2 L250.2,110.9 L250.7,110.5 L251.2,110.7 L251.7,111.1 L252.2,110.4 L252.7,110.9 L253.2,110.3 L253.7,110.7 L254.2,110.3 L254.7,110.3 L255.2,110.8 L255.7,110.3 L256.2,111.0 L256.7,110.9 L257.2,110.7 L257.7,110.9 L258.2,110.8 L258.7,110.6 L259.2,110.5 L259.7,110.6 L260.2,111.1 L260.7,110.4 L261.2,110.4 L261.7,110.8 L262.2,110.5 L262.7,111.1 L263.2,111.0 L263.7,111.0 L264.2,110.8 L264.7,110.4 L265.2,109.4 L265.7,109.1 L266.2,107.7 L266.7,105.7 L267.2,100.7 L267.7,97.4 L268.2,92.8 L268.7,85.7 L269.2,78.2 L269.7,73.1 L270.2,69.3 L270.4,69.0 L270.7,68.9 L271.2,72.3 L271.7,79.4 L272.2,85.5 L272.7,91.0 L273.2,97.4 L273.7,100.1 L274.2,103.7 L274.7,106.3 L275.2,108.6 L275.7,109.9 L276.2,110.3 L276.7,110.2 L277.2,110.4 L277.7,109.7 L278.2,110.3 L278.7,110.4 L279.2,110.3 L279.7,109.4 L280.2,109.7 L280.7,109.3 L281.2,109.5 L281.7,109.1 L282.2,109.3 L282.7,109.1 L283.2,109.0 L283.7,109.1 L284.2,108.7 L284.7,109.3 L285.2,109.5 L285.7,108.5 L286.2,108.7 L286.7,108.5 L287.2,108.8 L287.7,109.4 L288.2,108.3 L288.7,108.2 L289.2,108.2 L289.7,108.6 L290.2,108.8 L290.7,108.5 L291.2,108.6 L291.7,108.2 L292.2,108.4 L292.7,107.8 L293.2,107.9 L293.7,108.2 L294.2,108.7 L294.7,108.6 L295.2,108.3 L295.7,108.6 L296.2,108.3 L296.7,108.6 L297.2,107.7 L297.7,107.9 L298.2,107.7 L298.7,106.7 L299.2,106.4 L299.7,106.1 L300.2,106.2 L300.7,105.9 L301.2,106.0 L301.7,105.4 L302.2,105.0 L302.7,105.1 L303.2,104.8 L303.7,105.0 L304.2,105.6 L304.7,105.7 L305.2,105.2 L305.7,103.9 L306.2,105.0 L306.7,104.8 L307.2,103.5 L307.7,103.4 L308.2,102.5 L308.7,100.2 L309.2,101.7 L309.5,101.0 L309.7,101.7 L310.2,102.0 L310.7,103.6 L311.2,106.3 L311.7,107.2 L312.2,108.5 L312.7,109.1 L313.2,110.5 L313.7,110.2 L314.2,110.9 L314.7,110.1 L315.2,110.7 L315.7,110.0 L316.2,110.2 L316.7,110.9 L317.2,110.4 L317.7,110.0 L318.2,110.1 L318.7,110.1 L319.2,110.1 L319.7,110.5 L320.2,110.0 L320.7,110.8 L321.2,110.6 L321.7,110.7 L322.2,110.7 L322.7,110.6 L323.2,110.6 L323.7,110.7 L324.2,110.9 L324.7,110.9 L325.2,110.3 L325.7,110.4 L326.2,110.7 L326.7,110.4 L327.2,110.0 L327.7,110.4 L328.2,109.9 L328.7,110.1 L329.2,110.2 L329.7,110.5 L330.2,110.8 L330.7,110.2 L331.2,110.7 L331.7,110.1 L332.2,110.2 L332.7,110.6 L333.2,110.4 L333.7,110.5 L334.2,109.9 L334.7,110.3 L335.2,109.9 L335.7,110.5 L336.2,110.5 L336.7,110.4 L337.2,110.4 L337.7,110.6 L338.2,110.5 L338.7,110.9 L339.2,110.7 L339.7,110.3 L340.2,110.2 L340.7,110.0 L341.2,110.6 L341.7,110.7 L342.2,110.2 L342.7,110.1 L343.2,110.2 L343.7,110.1 L344.2,110.4 L344.7,110.0 L345.2,110.0 L345.7,110.0 L346.2,110.2 L346.7,110.9 L347.2,110.6 L347.7,110.1 L348.2,110.3 L348.7,110.3 L349.2,111.0 L349.7,110.2 L350.2,110.5 L350.7,111.0 L351.2,110.8 L351.5,111.9 Z" fill="#000"/>
<rect x="350.5" y="75.3" width="1" height="36.6" fill="#8a8a8a"/>
<rect x="350.5" y="93.6" width="1.1" height="18.3" fill="#333"/>
<rect x="231.2" y="50.9" width="1" height="61.0" fill="#555"/>
<rect x="231.2" y="111.3" width="120.3" height="1.2" fill="#111"/>
<rect x="229.7" y="50.5" width="1.5" height="0.8" fill="#666"/>
<rect x="229.7" y="65.8" width="1.5" height="0.8" fill="#666"/>
<rect x="229.7" y="81.0" width="1.5" height="0.8" fill="#666"/>
<rect x="229.7" y="96.2" width="1.5" height="0.8" fill="#666"/>
<rect x="229.7" y="111.5" width="1.5" height="0.8" fill="#666"/>
<text class="t" font-size="4.6" transform="translate(228.7,52.1) rotate(-90)" text-anchor="middle">256</text>
<text class="t" font-size="4.8" transform="translate(228.7,111.9) rotate(-90)" text-anchor="middle">0</text>
<text class="t" font-size="4.8" x="231.9" y="117.7" text-anchor="middle">0</text>
<text class="t" font-size="4.8" x="352.1" y="117.7" text-anchor="end">1023</text>
<text font-size="8.2" transform="translate(224.0,83.4) rotate(-90)" text-anchor="middle">Events</text>
<text font-size="8.6" x="289.7" y="126.1" text-anchor="middle">PI</text>
<text font-size="8" x="291.9" y="57.5">G0</text>
<text font-size="8" x="340.6" y="57.5" text-anchor="end">6.1%</text>
<text font-size="8" x="291.9" y="67.4">sub-G1</text>
<text font-size="8" x="340.6" y="67.4" text-anchor="end">0.5%</text>
<text font-size="8" x="291.9" y="77.4">G1</text>
<text font-size="8" x="340.6" y="77.4" text-anchor="end">52.1%</text>
<text font-size="8" x="291.9" y="87.3">S</text>
<text font-size="8" x="340.6" y="87.3" text-anchor="end">17.1%</text>
<text font-size="8" x="291.9" y="97.3">G2/M</text>
<text font-size="8" x="340.6" y="97.3" text-anchor="end">24.3%</text>
<path d="M232.2,289.6 L232.2,285.7 L232.7,286.7 L233.2,287.7 L233.7,287.9 L234.2,287.9 L234.7,288.1 L235.2,287.9 L235.7,288.5 L236.2,288.5 L236.7,287.9 L237.2,288.7 L237.7,287.9 L238.2,288.3 L238.7,288.2 L239.2,288.2 L239.7,288.2 L240.2,288.3 L240.7,288.8 L241.2,288.4 L241.7,287.9 L242.2,288.2 L242.7,288.6 L243.2,288.0 L243.7,288.1 L244.2,288.2 L244.7,287.9 L245.2,288.4 L245.7,288.7 L246.2,288.4 L246.7,288.0 L247.2,288.2 L247.7,288.6 L248.2,288.5 L248.7,288.5 L249.2,288.1 L249.7,288.7 L250.2,288.7 L250.7,287.9 L251.2,288.1 L251.7,288.9 L252.2,288.5 L252.7,288.4 L253.2,288.5 L253.7,288.5 L254.2,288.6 L254.7,288.8 L255.2,288.4 L255.7,288.1 L256.2,288.2 L256.7,288.8 L257.2,288.7 L257.7,288.3 L258.2,288.5 L258.7,288.9 L259.2,288.7 L259.7,288.8 L260.2,288.1 L260.7,288.3 L261.2,287.9 L261.7,288.8 L262.2,288.4 L262.7,288.7 L263.2,288.3 L263.7,288.7 L264.2,288.1 L264.7,288.4 L265.2,288.4 L265.7,288.5 L266.2,288.4 L266.7,287.3 L267.2,287.3 L267.7,285.9 L268.2,283.9 L268.7,280.8 L269.2,277.3 L269.7,272.8 L270.2,265.4 L270.7,259.6 L271.2,250.5 L271.7,243.8 L272.2,241.3 L272.5,239.1 L272.7,239.9 L273.2,242.9 L273.7,248.6 L274.2,255.7 L274.7,262.6 L275.2,269.2 L275.7,274.4 L276.2,279.4 L276.7,281.6 L277.2,284.0 L277.7,285.8 L278.2,287.2 L278.7,287.3 L279.2,287.4 L279.7,287.2 L280.2,287.4 L280.7,287.0 L281.2,287.5 L281.7,287.1 L282.2,286.9 L282.7,287.3 L283.2,286.8 L283.7,287.3 L284.2,287.0 L284.7,287.2 L285.2,286.8 L285.7,287.0 L286.2,286.6 L286.7,286.8 L287.2,287.2 L287.7,287.5 L288.2,286.8 L288.7,286.6 L289.2,287.2 L289.7,286.9 L290.2,287.7 L290.7,286.7 L291.2,287.2 L291.7,286.8 L292.2,287.0 L292.7,287.4 L293.2,287.4 L293.7,287.5 L294.2,287.2 L294.7,287.5 L295.2,287.3 L295.7,287.5 L296.2,287.5 L296.7,287.0 L297.2,287.7 L297.7,286.9 L298.2,287.0 L298.7,286.8 L299.2,287.1 L299.7,286.7 L300.2,286.6 L300.7,287.5 L301.2,287.5 L301.7,287.5 L302.2,287.0 L302.7,287.2 L303.2,287.0 L303.7,286.7 L304.2,286.7 L304.7,287.4 L305.2,287.2 L305.7,287.3 L306.2,287.8 L306.7,287.4 L307.2,286.9 L307.7,286.6 L308.2,286.0 L308.7,284.5 L309.2,284.2 L309.7,283.5 L310.2,281.6 L310.7,280.7 L311.2,279.8 L311.7,279.0 L312.2,279.1 L312.7,279.2 L313.2,279.6 L313.7,280.1 L314.2,281.2 L314.7,282.4 L315.2,283.3 L315.7,284.2 L316.2,285.9 L316.7,286.6 L317.2,287.1 L317.7,287.4 L318.2,288.1 L318.7,287.7 L319.2,288.2 L319.7,288.5 L320.2,288.4 L320.7,288.5 L321.2,288.1 L321.7,288.1 L322.2,288.6 L322.7,288.6 L323.2,288.4 L323.7,288.4 L324.2,288.5 L324.7,288.2 L325.2,288.3 L325.7,288.4 L326.2,288.3 L326.7,288.7 L327.2,288.1 L327.7,288.1 L328.2,288.7 L328.7,288.6 L329.2,288.7 L329.7,288.8 L330.2,288.7 L330.7,287.9 L331.2,288.2 L331.7,288.2 L332.2,288.1 L332.7,288.0 L333.2,288.0 L333.7,287.9 L334.2,288.4 L334.7,287.9 L335.2,287.9 L335.7,288.5 L336.2,288.7 L336.7,287.9 L337.2,288.5 L337.7,288.2 L338.2,288.2 L338.7,288.8 L339.2,288.4 L339.7,288.6 L340.2,288.2 L340.7,288.4 L341.2,288.5 L341.7,288.2 L342.2,288.7 L342.7,288.2 L343.2,288.1 L343.7,288.2 L344.2,288.2 L344.7,288.5 L345.2,288.0 L345.7,288.0 L346.2,287.9 L346.7,288.3 L347.2,288.7 L347.7,288.3 L348.2,288.6 L348.7,288.2 L349.2,288.7 L349.7,288.3 L350.2,288.4 L350.7,288.7 L351.2,288.3 L351.7,288.0 L352.0,289.6 Z" fill="#000"/>
<rect x="351.0" y="244.5" width="1" height="45.1" fill="#8a8a8a"/>
<rect x="351.0" y="267.1" width="1.1" height="22.5" fill="#333"/>
<rect x="231.7" y="228.7" width="1" height="60.9" fill="#555"/>
<rect x="231.7" y="289.0" width="120.3" height="1.2" fill="#111"/>
<rect x="230.2" y="228.3" width="1.5" height="0.8" fill="#666"/>
<rect x="230.2" y="243.5" width="1.5" height="0.8" fill="#666"/>
<rect x="230.2" y="258.8" width="1.5" height="0.8" fill="#666"/>
<rect x="230.2" y="274.0" width="1.5" height="0.8" fill="#666"/>
<rect x="230.2" y="289.2" width="1.5" height="0.8" fill="#666"/>
<text class="t" font-size="4.6" transform="translate(229.2,229.9) rotate(-90)" text-anchor="middle">256</text>
<text class="t" font-size="4.8" transform="translate(229.2,289.6) rotate(-90)" text-anchor="middle">0</text>
<text class="t" font-size="4.8" x="232.4" y="295.4" text-anchor="middle">0</text>
<text class="t" font-size="4.8" x="352.6" y="295.4" text-anchor="end">1023</text>
<text font-size="8.2" transform="translate(225.1,261.1) rotate(-90)" text-anchor="middle">Events</text>
<text font-size="8.6" x="290.2" y="303.8" text-anchor="middle">PI</text>
<text font-size="8" x="292.8" y="229.8">G0</text>
<text font-size="8" x="343.8" y="229.8" text-anchor="end">5.9%</text>
<text font-size="8" x="292.8" y="239.6">sub-G1</text>
<text font-size="8" x="343.8" y="239.6" text-anchor="end">0.9%</text>
<text font-size="8" x="292.8" y="249.4">G1</text>
<text font-size="8" x="343.8" y="249.4" text-anchor="end">61.2%</text>
<text font-size="8" x="292.8" y="259.2">S</text>
<text font-size="8" x="343.8" y="259.2" text-anchor="end">13.8%</text>
<text font-size="8" x="292.8" y="269.0">G2/M</text>
<text font-size="8" x="343.8" y="269.0" text-anchor="end">17.9%</text>
<path d="M232.5,380.2 L232.5,370.5 L233.0,372.0 L233.5,373.8 L234.0,374.1 L234.5,374.7 L235.0,376.1 L235.5,376.1 L236.0,376.9 L236.5,377.6 L237.0,376.8 L237.5,377.2 L238.0,377.5 L238.5,378.3 L239.0,377.7 L239.5,378.4 L240.0,378.3 L240.5,377.6 L241.0,377.5 L241.5,378.3 L242.0,377.9 L242.5,378.0 L243.0,378.2 L243.5,378.3 L244.0,377.3 L244.5,378.5 L245.0,377.9 L245.5,378.4 L246.0,377.3 L246.5,377.9 L247.0,378.3 L247.5,378.2 L248.0,377.2 L248.5,377.8 L249.0,378.2 L249.5,377.3 L250.0,378.1 L250.5,377.2 L251.0,377.7 L251.5,378.1 L252.0,377.7 L252.5,378.2 L253.0,377.4 L253.5,377.8 L254.0,377.2 L254.5,378.4 L255.0,377.9 L255.5,378.2 L256.0,378.0 L256.5,377.7 L257.0,377.6 L257.5,377.6 L258.0,377.7 L258.5,378.1 L259.0,377.8 L259.5,377.3 L260.0,378.0 L260.5,377.9 L261.0,378.2 L261.5,378.0 L262.0,377.3 L262.5,377.3 L263.0,377.6 L263.5,378.4 L264.0,378.0 L264.5,377.2 L265.0,378.3 L265.5,378.2 L266.0,377.8 L266.5,378.3 L267.0,377.6 L267.5,377.9 L268.0,378.1 L268.5,376.4 L269.0,374.8 L269.5,373.6 L270.0,368.7 L270.5,362.8 L271.0,354.9 L271.5,347.5 L272.0,336.8 L272.5,328.4 L273.0,320.3 L273.5,320.3 L273.8,320.3 L274.0,320.3 L274.5,320.3 L275.0,326.0 L275.5,334.6 L276.0,344.4 L276.5,353.5 L277.0,360.9 L277.5,367.2 L278.0,372.4 L278.5,374.4 L279.0,376.3 L279.5,377.4 L280.0,378.3 L280.5,377.6 L281.0,377.9 L281.5,378.3 L282.0,378.2 L282.5,378.1 L283.0,377.8 L283.5,377.6 L284.0,377.5 L284.5,377.4 L285.0,377.2 L285.5,377.3 L286.0,378.1 L286.5,377.5 L287.0,378.2 L287.5,378.3 L288.0,377.1 L288.5,377.5 L289.0,377.8 L289.5,377.7 L290.0,378.2 L290.5,378.2 L291.0,377.3 L291.5,378.4 L292.0,378.3 L292.5,377.4 L293.0,378.1 L293.5,378.2 L294.0,377.5 L294.5,377.4 L295.0,377.2 L295.5,377.2 L296.0,378.2 L296.5,378.1 L297.0,377.8 L297.5,377.4 L298.0,378.2 L298.5,377.9 L299.0,377.7 L299.5,378.2 L300.0,378.0 L300.5,377.8 L301.0,377.6 L301.5,378.2 L302.0,378.0 L302.5,377.7 L303.0,377.3 L303.5,378.1 L304.0,378.0 L304.5,377.8 L305.0,377.4 L305.5,377.4 L306.0,378.3 L306.5,378.0 L307.0,378.3 L307.5,377.4 L308.0,378.3 L308.5,378.4 L309.0,377.1 L309.5,377.9 L310.0,377.7 L310.5,377.7 L311.0,378.1 L311.5,377.9 L312.0,377.4 L312.5,376.9 L313.0,376.8 L313.5,376.7 L314.0,375.6 L314.5,375.3 L315.0,376.3 L315.3,375.5 L315.5,376.1 L316.0,375.8 L316.5,375.9 L317.0,376.6 L317.5,376.5 L318.0,377.4 L318.5,377.8 L319.0,377.2 L319.5,378.4 L320.0,378.3 L320.5,377.7 L321.0,378.1 L321.5,378.9 L322.0,378.6 L322.5,378.3 L323.0,378.5 L323.5,378.0 L324.0,378.8 L324.5,378.3 L325.0,379.0 L325.5,378.1 L326.0,378.5 L326.5,379.1 L327.0,378.3 L327.5,379.0 L328.0,378.9 L328.5,378.9 L329.0,378.8 L329.5,378.7 L330.0,379.2 L330.5,379.1 L331.0,379.1 L331.5,378.7 L332.0,378.3 L332.5,378.2 L333.0,378.8 L333.5,378.8 L334.0,378.7 L334.5,378.3 L335.0,379.2 L335.5,378.7 L336.0,378.6 L336.5,378.9 L337.0,379.1 L337.5,378.7 L338.0,378.3 L338.5,379.3 L339.0,379.2 L339.5,379.0 L340.0,378.5 L340.5,378.9 L341.0,378.9 L341.5,378.6 L342.0,378.4 L342.5,379.2 L343.0,378.3 L343.5,378.9 L344.0,378.5 L344.5,378.5 L345.0,378.2 L345.5,378.6 L346.0,378.3 L346.5,378.5 L347.0,378.9 L347.5,378.2 L348.0,378.1 L348.5,378.8 L349.0,378.3 L349.5,378.4 L350.0,378.2 L350.5,378.5 L351.0,379.0 L351.5,379.2 L352.0,378.8 L352.3,380.2 Z" fill="#000"/>
<rect x="351.3" y="353.2" width="1" height="27.0" fill="#8a8a8a"/>
<rect x="351.3" y="367.0" width="1.1" height="13.2" fill="#333"/>
<rect x="232.0" y="320.3" width="1" height="59.9" fill="#555"/>
<rect x="232.0" y="379.6" width="120.3" height="1.2" fill="#111"/>
<rect x="230.5" y="319.9" width="1.5" height="0.8" fill="#666"/>
<rect x="230.5" y="334.9" width="1.5" height="0.8" fill="#666"/>
<rect x="230.5" y="349.9" width="1.5" height="0.8" fill="#666"/>
<rect x="230.5" y="364.8" width="1.5" height="0.8" fill="#666"/>
<rect x="230.5" y="379.8" width="1.5" height="0.8" fill="#666"/>
<text class="t" font-size="4.6" transform="translate(229.5,321.5) rotate(-90)" text-anchor="middle">256</text>
<text class="t" font-size="4.8" transform="translate(229.5,380.2) rotate(-90)" text-anchor="middle">0</text>
<text class="t" font-size="4.8" x="232.7" y="386.0" text-anchor="middle">0</text>
<text class="t" font-size="4.8" x="352.9" y="386.0" text-anchor="end">1023</text>
<text font-size="8.2" transform="translate(225.1,352.2) rotate(-90)" text-anchor="middle">Events</text>
<text font-size="8.6" x="290.5" y="394.4" text-anchor="middle">PI</text>
<text font-size="8" x="293.1" y="325.2">G0</text>
<text font-size="8" x="344.4" y="325.2" text-anchor="end">11.8%</text>
<text font-size="8" x="293.1" y="335.2">sub-G1</text>
<text font-size="8" x="344.4" y="335.2" text-anchor="end">1.5%</text>
<text font-size="8" x="293.1" y="345.1">G1</text>
<text font-size="8" x="344.4" y="345.1" text-anchor="end">81.2%</text>
<text font-size="8" x="293.1" y="355.1">S</text>
<text font-size="8" x="344.4" y="355.1" text-anchor="end">2.3%</text>
<text font-size="8" x="293.1" y="365.0">G2/M</text>
<text font-size="8" x="344.4" y="365.0" text-anchor="end">3.2%</text>
<path d="M232.8,470.2 L232.8,462.6 L233.3,463.9 L233.8,463.9 L234.3,465.6 L234.8,466.1 L235.3,466.0 L235.8,467.2 L236.3,466.9 L236.8,467.7 L237.3,467.7 L237.8,467.6 L238.3,467.7 L238.8,467.3 L239.3,468.4 L239.8,468.4 L240.3,468.0 L240.8,467.4 L241.3,467.8 L241.8,468.4 L242.3,467.4 L242.8,468.2 L243.3,468.4 L243.8,467.4 L244.3,467.7 L244.8,468.1 L245.3,467.9 L245.8,468.2 L246.3,468.2 L246.8,467.5 L247.3,467.7 L247.8,468.1 L248.3,467.7 L248.8,468.3 L249.3,468.2 L249.8,467.3 L250.3,467.7 L250.8,467.9 L251.3,467.6 L251.8,468.0 L252.3,467.9 L252.8,467.9 L253.3,467.5 L253.8,467.8 L254.3,467.6 L254.8,468.3 L255.3,467.8 L255.8,467.9 L256.3,467.7 L256.8,468.2 L257.3,467.2 L257.8,468.3 L258.3,467.8 L258.8,468.4 L259.3,467.9 L259.8,467.7 L260.3,467.8 L260.8,467.8 L261.3,467.2 L261.8,467.8 L262.3,467.2 L262.8,468.2 L263.3,467.5 L263.8,467.6 L264.3,467.7 L264.8,467.1 L265.3,467.3 L265.8,467.2 L266.3,467.4 L266.8,467.1 L267.3,467.9 L267.8,468.2 L268.3,467.2 L268.8,467.8 L269.3,467.0 L269.8,465.1 L270.3,459.5 L270.8,455.5 L271.3,448.3 L271.8,439.8 L272.3,430.0 L272.8,419.9 L273.3,411.5 L273.8,409.2 L274.2,409.2 L274.3,409.2 L274.8,409.2 L275.3,414.1 L275.8,421.5 L276.3,431.9 L276.8,441.1 L277.3,449.9 L277.8,456.0 L278.3,460.9 L278.8,464.2 L279.3,465.8 L279.8,467.4 L280.3,467.1 L280.8,467.4 L281.3,467.4 L281.8,468.3 L282.3,468.0 L282.8,467.6 L283.3,468.2 L283.8,468.3 L284.3,467.2 L284.8,467.5 L285.3,468.0 L285.8,467.8 L286.3,467.2 L286.8,468.2 L287.3,467.6 L287.8,467.4 L288.3,467.1 L288.8,468.4 L289.3,468.3 L289.8,467.3 L290.3,467.7 L290.8,468.3 L291.3,467.3 L291.8,468.2 L292.3,467.7 L292.8,467.9 L293.3,467.9 L293.8,467.4 L294.3,467.6 L294.8,467.1 L295.3,467.4 L295.8,467.9 L296.3,467.8 L296.8,467.9 L297.3,467.3 L297.8,467.7 L298.3,467.2 L298.8,467.9 L299.3,468.3 L299.8,468.1 L300.3,468.2 L300.8,467.7 L301.3,468.2 L301.8,468.2 L302.3,467.8 L302.8,468.2 L303.3,468.0 L303.8,467.7 L304.3,467.2 L304.8,467.4 L305.3,467.8 L305.8,467.3 L306.3,468.3 L306.8,468.1 L307.3,467.6 L307.8,468.1 L308.3,467.3 L308.8,467.3 L309.3,467.6 L309.8,468.4 L310.3,467.6 L310.8,468.2 L311.3,467.8 L311.8,467.9 L312.3,468.0 L312.8,467.7 L313.3,466.9 L313.8,466.5 L314.3,466.1 L314.8,465.4 L315.3,465.4 L315.8,464.5 L316.3,465.7 L316.5,464.8 L316.8,465.6 L317.3,465.0 L317.8,465.5 L318.3,466.8 L318.8,467.1 L319.3,466.0 L319.8,467.4 L320.3,467.7 L320.8,467.7 L321.3,468.0 L321.8,468.5 L322.3,468.6 L322.8,468.4 L323.3,468.3 L323.8,469.1 L324.3,469.0 L324.8,469.0 L325.3,468.6 L325.8,469.1 L326.3,468.4 L326.8,468.3 L327.3,468.5 L327.8,468.7 L328.3,468.4 L328.8,468.5 L329.3,468.6 L329.8,468.9 L330.3,468.8 L330.8,468.8 L331.3,469.1 L331.8,468.2 L332.3,468.5 L332.8,468.5 L333.3,468.2 L333.8,468.3 L334.3,468.5 L334.8,468.7 L335.3,468.7 L335.8,469.0 L336.3,468.5 L336.8,468.1 L337.3,469.1 L337.8,468.9 L338.3,469.1 L338.8,468.5 L339.3,468.6 L339.8,468.3 L340.3,468.2 L340.8,469.1 L341.3,468.1 L341.8,468.5 L342.3,468.2 L342.8,469.2 L343.3,468.8 L343.8,468.9 L344.3,468.4 L344.8,468.4 L345.3,468.1 L345.8,469.1 L346.3,468.2 L346.8,468.4 L347.3,468.8 L347.8,468.1 L348.3,468.4 L348.8,468.6 L349.3,468.5 L349.8,468.2 L350.3,469.3 L350.8,469.1 L351.3,469.0 L351.8,468.6 L352.3,468.7 L352.6,470.2 Z" fill="#000"/>
<rect x="351.6" y="447.0" width="1" height="23.2" fill="#8a8a8a"/>
<rect x="351.6" y="458.0" width="1.1" height="12.2" fill="#333"/>
<rect x="232.3" y="409.2" width="1" height="61.0" fill="#555"/>
<rect x="232.3" y="469.6" width="120.3" height="1.2" fill="#111"/>
<rect x="230.8" y="408.8" width="1.5" height="0.8" fill="#666"/>
<rect x="230.8" y="424.1" width="1.5" height="0.8" fill="#666"/>
<rect x="230.8" y="439.3" width="1.5" height="0.8" fill="#666"/>
<rect x="230.8" y="454.6" width="1.5" height="0.8" fill="#666"/>
<rect x="230.8" y="469.8" width="1.5" height="0.8" fill="#666"/>
<text class="t" font-size="4.6" transform="translate(229.8,410.4) rotate(-90)" text-anchor="middle">256</text>
<text class="t" font-size="4.8" transform="translate(229.8,470.2) rotate(-90)" text-anchor="middle">0</text>
<text class="t" font-size="4.8" x="233.0" y="476.0" text-anchor="middle">0</text>
<text class="t" font-size="4.8" x="353.2" y="476.0" text-anchor="end">1023</text>
<text font-size="8.2" transform="translate(225.6,441.7) rotate(-90)" text-anchor="middle">Events</text>
<text font-size="8.6" x="290.8" y="484.4" text-anchor="middle">PI</text>
<text font-size="8" x="293.5" y="417.5">G0</text>
<text font-size="8" x="343.1" y="417.5" text-anchor="end">10.7%</text>
<text font-size="8" x="293.5" y="427.4">sub-G1</text>
<text font-size="8" x="343.1" y="427.4" text-anchor="end">1.5%</text>
<text font-size="8" x="293.5" y="437.4">G1</text>
<text font-size="8" x="343.1" y="437.4" text-anchor="end">75.4%</text>
<text font-size="8" x="293.5" y="447.3">S</text>
<text font-size="8" x="343.1" y="447.3" text-anchor="end">4.1%</text>
<text font-size="8" x="293.5" y="457.3">G2/M</text>
<text font-size="8" x="343.1" y="457.3" text-anchor="end">7.9%</text>
<path d="M233.6,560.6 L233.6,554.3 L234.1,554.8 L234.6,555.7 L235.1,556.6 L235.6,556.5 L236.1,557.7 L236.6,557.4 L237.1,558.4 L237.6,557.4 L238.1,558.0 L238.6,558.8 L239.1,558.6 L239.6,558.4 L240.1,558.2 L240.6,557.6 L241.1,557.8 L241.6,557.8 L242.1,558.2 L242.6,557.2 L243.1,557.6 L243.6,558.3 L244.1,558.5 L244.6,557.9 L245.1,557.9 L245.6,557.3 L246.1,558.4 L246.6,557.8 L247.1,557.9 L247.6,557.9 L248.1,558.1 L248.6,558.2 L249.1,557.4 L249.6,558.3 L250.1,558.5 L250.6,558.2 L251.1,557.9 L251.6,557.7 L252.1,557.8 L252.6,558.1 L253.1,558.3 L253.6,557.4 L254.1,557.5 L254.6,558.1 L255.1,557.6 L255.6,557.4 L256.1,558.3 L256.6,558.0 L257.1,558.5 L257.6,557.9 L258.1,557.8 L258.6,558.0 L259.1,557.8 L259.6,557.4 L260.1,558.4 L260.6,557.4 L261.1,558.3 L261.6,557.3 L262.1,557.4 L262.6,557.6 L263.1,558.4 L263.6,557.5 L264.1,557.7 L264.6,557.6 L265.1,558.1 L265.6,557.7 L266.1,558.3 L266.6,557.4 L267.1,558.1 L267.6,558.1 L268.1,558.3 L268.6,558.4 L269.1,558.1 L269.6,557.5 L270.1,555.0 L270.6,551.4 L271.1,547.6 L271.6,543.2 L272.1,534.8 L272.6,524.9 L273.1,518.0 L273.6,509.8 L274.1,505.1 L274.5,504.9 L274.6,503.4 L275.1,506.0 L275.6,510.9 L276.1,519.3 L276.6,526.3 L277.1,535.3 L277.6,541.8 L278.1,548.1 L278.6,552.1 L279.1,555.4 L279.6,556.2 L280.1,558.0 L280.6,557.7 L281.1,557.5 L281.6,557.7 L282.1,557.9 L282.6,558.2 L283.1,557.8 L283.6,557.3 L284.1,558.5 L284.6,557.7 L285.1,558.4 L285.6,557.6 L286.1,557.4 L286.6,557.7 L287.1,558.1 L287.6,557.3 L288.1,557.9 L288.6,558.1 L289.1,558.0 L289.6,557.4 L290.1,557.3 L290.6,558.4 L291.1,558.2 L291.6,558.1 L292.1,557.9 L292.6,557.5 L293.1,557.8 L293.6,558.6 L294.1,558.3 L294.6,557.7 L295.1,557.6 L295.6,558.5 L296.1,558.5 L296.6,558.1 L297.1,558.5 L297.6,557.9 L298.1,557.7 L298.6,557.2 L299.1,558.2 L299.6,558.3 L300.1,558.1 L300.6,558.2 L301.1,558.1 L301.6,557.8 L302.1,557.5 L302.6,557.6 L303.1,558.3 L303.6,557.5 L304.1,558.1 L304.6,557.4 L305.1,557.8 L305.6,557.4 L306.1,557.8 L306.6,558.2 L307.1,557.4 L307.6,557.6 L308.1,557.5 L308.6,557.2 L309.1,557.5 L309.6,557.5 L310.1,557.8 L310.6,557.6 L311.1,556.5 L311.6,556.9 L312.1,556.1 L312.6,555.4 L313.1,554.6 L313.6,555.1 L314.1,553.6 L314.6,552.9 L315.1,552.8 L315.5,553.2 L315.6,553.7 L316.1,553.5 L316.6,553.5 L317.1,553.6 L317.6,555.0 L318.1,554.3 L318.6,555.6 L319.1,555.9 L319.6,557.2 L320.1,557.3 L320.6,558.3 L321.1,558.0 L321.6,558.0 L322.1,558.6 L322.6,559.3 L323.1,559.0 L323.6,558.4 L324.1,559.0 L324.6,559.1 L325.1,558.5 L325.6,559.2 L326.1,558.9 L326.6,559.5 L327.1,559.6 L327.6,559.4 L328.1,559.3 L328.6,558.9 L329.1,558.8 L329.6,559.1 L330.1,559.4 L330.6,559.2 L331.1,559.2 L331.6,559.5 L332.1,558.9 L332.6,559.1 L333.1,559.0 L333.6,559.4 L334.1,558.7 L334.6,559.3 L335.1,558.6 L335.6,558.5 L336.1,559.5 L336.6,558.8 L337.1,559.6 L337.6,559.2 L338.1,559.5 L338.6,558.9 L339.1,559.5 L339.6,558.6 L340.1,559.6 L340.6,558.8 L341.1,558.9 L341.6,559.6 L342.1,559.7 L342.6,559.1 L343.1,559.5 L343.6,559.4 L344.1,558.5 L344.6,559.6 L345.1,558.5 L345.6,558.8 L346.1,559.1 L346.6,559.2 L347.1,559.7 L347.6,558.7 L348.1,559.1 L348.6,559.2 L349.1,559.5 L349.6,559.7 L350.1,558.7 L350.6,558.7 L351.1,559.2 L351.6,559.1 L352.1,558.7 L352.6,558.6 L353.1,558.8 L353.4,560.6 Z" fill="#000"/>
<rect x="352.4" y="525.0" width="1" height="35.6" fill="#8a8a8a"/>
<rect x="352.4" y="543.7" width="1.1" height="16.9" fill="#333"/>
<rect x="233.1" y="500.3" width="1" height="60.3" fill="#555"/>
<rect x="233.1" y="560.0" width="120.3" height="1.2" fill="#111"/>
<rect x="231.6" y="499.9" width="1.5" height="0.8" fill="#666"/>
<rect x="231.6" y="515.0" width="1.5" height="0.8" fill="#666"/>
<rect x="231.6" y="530.1" width="1.5" height="0.8" fill="#666"/>
<rect x="231.6" y="545.1" width="1.5" height="0.8" fill="#666"/>
<rect x="231.6" y="560.2" width="1.5" height="0.8" fill="#666"/>
<text class="t" font-size="4.6" transform="translate(230.6,501.5) rotate(-90)" text-anchor="middle">256</text>
<text class="t" font-size="4.8" transform="translate(230.6,560.6) rotate(-90)" text-anchor="middle">0</text>
<text class="t" font-size="4.8" x="233.8" y="566.4" text-anchor="middle">0</text>
<text class="t" font-size="4.8" x="354.0" y="566.4" text-anchor="end">1023</text>
<text font-size="8.2" transform="translate(225.1,532.5) rotate(-90)" text-anchor="middle">Events</text>
<text font-size="8.6" x="291.6" y="574.8" text-anchor="middle">PI</text>
<text font-size="8" x="293.8" y="506.5">G0</text>
<text font-size="8" x="343.5" y="506.5" text-anchor="end">8.5%</text>
<text font-size="8" x="293.8" y="516.4">sub-G1</text>
<text font-size="8" x="343.5" y="516.4" text-anchor="end">1.4%</text>
<text font-size="8" x="293.8" y="526.2">G1</text>
<text font-size="8" x="343.5" y="526.2" text-anchor="end">71.0%</text>
<text font-size="8" x="293.8" y="536.1">S</text>
<text font-size="8" x="343.5" y="536.1" text-anchor="end">7.4%</text>
<text font-size="8" x="293.8" y="546.0">G2/M</text>
<text font-size="8" x="343.5" y="546.0" text-anchor="end">11.6%</text>
<path d="M391.9,111.6 L391.9,111.0 L392.4,111.3 L392.9,111.2 L393.4,111.0 L393.9,111.1 L394.4,111.0 L394.9,111.1 L395.4,111.0 L395.9,111.0 L396.4,111.0 L396.9,111.1 L397.4,111.3 L397.9,110.9 L398.4,111.3 L398.9,110.9 L399.4,111.1 L399.9,111.2 L400.4,111.2 L400.9,111.3 L401.4,111.0 L401.9,111.1 L402.4,111.1 L402.9,111.3 L403.4,110.9 L403.9,111.0 L404.4,111.2 L404.9,111.0 L405.4,111.2 L405.9,111.1 L406.4,111.1 L406.9,111.0 L407.4,111.1 L407.9,111.1 L408.4,111.0 L408.9,111.1 L409.4,111.0 L409.9,111.2 L410.4,111.1 L410.9,111.1 L411.4,111.2 L411.9,110.9 L412.4,110.9 L412.9,110.9 L413.4,111.2 L413.9,110.9 L414.4,111.2 L414.9,111.2 L415.4,111.3 L415.9,111.1 L416.4,110.9 L416.9,111.3 L417.4,111.0 L417.9,111.0 L418.4,111.1 L418.9,111.0 L419.4,110.8 L419.9,111.1 L420.4,110.8 L420.9,110.6 L421.4,110.6 L421.9,110.5 L422.4,110.4 L422.9,109.6 L423.4,109.5 L423.9,109.1 L424.4,108.3 L424.9,107.9 L425.4,106.5 L425.9,105.8 L426.4,104.6 L426.9,102.4 L427.4,102.4 L427.9,99.1 L428.4,99.8 L428.9,94.9 L429.4,93.5 L429.8,94.3 L429.9,95.3 L430.4,96.6 L430.9,96.3 L431.4,100.0 L431.9,103.8 L432.4,103.8 L432.9,106.8 L433.4,106.9 L433.9,107.5 L434.4,106.9 L434.9,105.9 L435.4,105.6 L435.9,107.6 L436.4,106.8 L436.9,106.2 L437.4,107.2 L437.9,105.7 L438.4,106.9 L438.9,107.2 L439.4,107.0 L439.9,106.4 L440.4,107.3 L440.9,106.1 L441.4,107.1 L441.9,105.6 L442.4,107.1 L442.9,106.0 L443.4,106.1 L443.9,105.5 L444.4,106.2 L444.9,106.1 L445.4,106.7 L445.9,107.2 L446.4,107.3 L446.9,107.6 L447.4,106.5 L447.9,106.3 L448.4,107.5 L448.9,107.3 L449.4,108.6 L449.9,107.5 L450.4,107.7 L450.9,108.0 L451.4,108.2 L451.9,108.1 L452.4,107.4 L452.9,108.2 L453.4,106.7 L453.9,108.2 L454.4,106.7 L454.9,107.7 L455.4,108.0 L455.9,106.7 L456.4,107.9 L456.9,108.5 L457.4,108.7 L457.9,108.3 L458.4,108.5 L458.9,108.6 L459.4,107.5 L459.9,108.6 L460.4,107.7 L460.9,107.2 L461.4,106.3 L461.9,106.2 L462.4,105.9 L462.9,106.0 L463.4,105.0 L463.9,104.0 L464.4,103.9 L464.9,103.4 L465.4,105.1 L465.9,104.3 L466.4,103.8 L466.9,106.2 L467.0,106.2 L467.4,106.4 L467.9,105.9 L468.4,104.3 L468.9,103.5 L469.4,104.0 L469.9,106.1 L470.4,106.0 L470.9,105.6 L471.4,106.6 L471.9,107.8 L472.4,107.2 L472.9,107.2 L473.4,107.4 L473.9,108.2 L474.4,107.8 L474.9,108.9 L475.4,108.0 L475.9,107.5 L476.4,108.4 L476.9,107.4 L477.4,108.3 L477.9,107.9 L478.4,108.5 L478.9,108.4 L479.4,108.9 L479.9,107.8 L480.4,109.0 L480.9,109.3 L481.4,109.2 L481.9,109.4 L482.4,109.8 L482.9,110.3 L483.4,110.3 L483.9,110.6 L484.4,110.8 L484.9,111.0 L485.4,111.0 L485.9,111.1 L486.4,111.0 L486.9,111.1 L487.4,111.2 L487.9,111.2 L488.4,111.0 L488.9,111.0 L489.4,111.1 L489.9,111.0 L490.4,111.2 L490.9,111.1 L491.4,111.1 L491.9,111.1 L492.4,111.2 L492.9,111.2 L493.4,111.0 L493.9,111.1 L494.4,111.1 L494.9,111.1 L495.4,111.2 L495.9,111.3 L496.4,111.0 L496.9,110.9 L497.4,111.2 L497.9,111.1 L498.4,111.2 L498.9,111.3 L499.4,111.3 L499.9,111.2 L500.4,111.0 L500.9,111.1 L501.4,110.9 L501.9,111.2 L502.4,110.9 L502.9,111.1 L503.4,111.2 L503.9,111.0 L504.4,111.0 L504.9,111.1 L505.4,111.3 L505.9,111.2 L506.4,111.0 L506.9,111.1 L507.4,111.1 L507.9,111.1 L508.4,110.9 L508.9,111.1 L509.4,111.0 L509.9,111.1 L510.4,111.2 L510.9,111.3 L511.4,111.1 L511.9,110.9 L512.3,111.6 Z" fill="#000"/>
<rect x="511.3" y="50.4" width="1" height="61.2" fill="#8a8a8a"/>
<rect x="511.3" y="80.4" width="1.1" height="31.2" fill="#333"/>
<rect x="391.4" y="50.4" width="1" height="61.2" fill="#555"/>
<rect x="391.4" y="111.0" width="120.9" height="1.2" fill="#111"/>
<rect x="389.9" y="50.0" width="1.5" height="0.8" fill="#666"/>
<rect x="389.9" y="65.3" width="1.5" height="0.8" fill="#666"/>
<rect x="389.9" y="80.6" width="1.5" height="0.8" fill="#666"/>
<rect x="389.9" y="95.9" width="1.5" height="0.8" fill="#666"/>
<rect x="389.9" y="111.2" width="1.5" height="0.8" fill="#666"/>
<text class="t" font-size="4.6" transform="translate(388.9,51.6) rotate(-90)" text-anchor="middle">256</text>
<text class="t" font-size="4.8" transform="translate(388.9,111.6) rotate(-90)" text-anchor="middle">0</text>
<text class="t" font-size="4.8" x="392.1" y="117.4" text-anchor="middle">0</text>
<text class="t" font-size="4.8" x="512.9" y="117.4" text-anchor="end">1023</text>
<text font-size="8.2" transform="translate(385.1,83.0) rotate(-90)" text-anchor="middle">Events</text>
<text font-size="8.6" x="453.6" y="125.8" text-anchor="middle">PI</text>
<text font-size="8" x="454.0" y="58.1">G0</text>
<text font-size="8" x="503.0" y="58.1" text-anchor="end">1.0%</text>
<text font-size="8" x="454.0" y="68.0">sub-G1</text>
<text font-size="8" x="503.0" y="68.0" text-anchor="end">1.8%</text>
<text font-size="8" x="454.0" y="77.8">G1</text>
<text font-size="8" x="503.0" y="77.8" text-anchor="end">38.1%</text>
<text font-size="8" x="454.0" y="87.7">S</text>
<text font-size="8" x="503.0" y="87.7" text-anchor="end">24.5%</text>
<text font-size="8" x="454.0" y="97.5">G2/M</text>
<text font-size="8" x="503.0" y="97.5" text-anchor="end">33.5%</text>
<path d="M392.7,289.3 L392.7,288.7 L393.2,288.7 L393.7,288.9 L394.2,288.9 L394.7,289.0 L395.2,288.9 L395.7,288.8 L396.2,288.8 L396.7,288.9 L397.2,288.7 L397.7,288.7 L398.2,288.7 L398.7,288.7 L399.2,288.7 L399.7,288.7 L400.2,288.8 L400.7,288.8 L401.2,289.0 L401.7,288.7 L402.2,288.7 L402.7,288.7 L403.2,288.7 L403.7,288.9 L404.2,288.8 L404.7,288.8 L405.2,288.8 L405.7,288.8 L406.2,288.8 L406.7,288.7 L407.2,288.5 L407.7,288.1 L408.2,287.4 L408.7,287.5 L409.2,285.2 L409.7,283.8 L410.2,281.7 L410.7,276.7 L411.2,275.0 L411.7,269.6 L412.2,265.4 L412.7,259.5 L413.1,259.2 L413.2,258.0 L413.7,261.4 L414.2,265.6 L414.7,270.5 L415.2,275.2 L415.7,278.9 L416.2,280.3 L416.7,284.4 L417.2,284.2 L417.7,284.7 L418.2,284.7 L418.7,284.2 L419.2,284.7 L419.7,283.8 L420.2,284.7 L420.7,281.4 L420.8,281.4 L421.2,281.9 L421.7,284.8 L422.2,282.4 L422.7,284.2 L423.2,282.8 L423.7,283.4 L424.2,284.4 L424.7,284.4 L425.2,284.8 L425.7,284.6 L426.2,283.5 L426.7,283.0 L427.2,283.6 L427.7,284.1 L428.2,283.9 L428.7,282.8 L429.2,282.9 L429.7,284.2 L430.2,285.0 L430.7,284.0 L431.2,282.4 L431.7,284.8 L432.2,283.6 L432.7,281.8 L433.2,280.2 L433.7,281.5 L434.2,278.1 L434.7,279.7 L435.2,280.9 L435.7,282.6 L436.2,282.4 L436.7,284.3 L437.2,285.1 L437.7,285.4 L438.2,286.2 L438.7,287.5 L439.2,287.7 L439.7,287.9 L440.2,288.2 L440.7,288.3 L441.2,287.9 L441.7,287.6 L442.2,287.5 L442.7,287.8 L443.2,287.5 L443.7,287.8 L444.2,288.0 L444.7,287.5 L445.2,287.8 L445.7,288.0 L446.2,288.1 L446.7,287.6 L447.2,287.7 L447.7,287.6 L448.2,287.3 L448.7,287.8 L449.2,287.6 L449.7,287.8 L450.2,287.8 L450.7,287.9 L451.2,287.8 L451.7,288.0 L452.2,287.7 L452.7,287.5 L453.2,287.6 L453.7,287.8 L454.2,287.7 L454.7,287.6 L455.2,287.6 L455.7,287.7 L456.2,288.0 L456.7,287.6 L457.2,287.7 L457.7,287.8 L458.2,288.0 L458.7,287.6 L459.2,288.0 L459.7,287.6 L460.2,287.4 L460.7,287.8 L461.2,287.3 L461.7,287.5 L462.2,287.5 L462.7,287.8 L463.2,287.8 L463.7,287.8 L464.2,287.6 L464.7,287.6 L465.2,287.5 L465.7,287.5 L466.2,287.7 L466.7,287.5 L467.2,287.5 L467.7,287.5 L468.2,287.7 L468.7,287.9 L469.2,287.6 L469.7,287.4 L470.2,287.8 L470.7,287.6 L471.2,288.1 L471.7,288.0 L472.2,287.6 L472.7,287.7 L473.2,287.9 L473.7,287.6 L474.2,288.1 L474.7,288.0 L475.2,288.0 L475.7,287.9 L476.2,288.1 L476.7,287.5 L477.2,287.5 L477.7,287.5 L478.2,287.6 L478.7,287.9 L479.2,287.7 L479.7,287.7 L480.2,287.6 L480.7,287.9 L481.2,287.8 L481.7,287.5 L482.2,287.7 L482.7,287.9 L483.2,287.8 L483.7,287.5 L484.2,287.6 L484.7,288.0 L485.2,287.9 L485.7,287.6 L486.2,287.7 L486.7,287.9 L487.2,288.0 L487.7,287.7 L488.2,287.8 L488.7,287.6 L489.2,287.9 L489.7,288.0 L490.2,288.0 L490.7,287.7 L491.2,287.7 L491.7,287.7 L492.2,287.6 L492.7,287.5 L493.2,287.5 L493.7,287.6 L494.2,287.6 L494.7,287.7 L495.2,287.9 L495.7,287.8 L496.2,287.8 L496.7,287.6 L497.2,287.7 L497.7,287.6 L498.2,287.6 L498.7,287.5 L499.2,287.5 L499.7,287.9 L500.2,288.0 L500.7,287.7 L501.2,288.1 L501.7,287.8 L502.2,287.9 L502.7,287.9 L503.2,288.2 L503.7,288.0 L504.2,288.0 L504.7,288.4 L505.2,288.3 L505.7,288.3 L506.2,288.3 L506.7,288.4 L507.2,288.4 L507.7,288.6 L508.2,288.6 L508.7,288.8 L509.2,288.6 L509.7,288.9 L510.2,288.6 L510.7,288.8 L511.2,288.6 L511.7,288.7 L512.2,288.6 L512.7,288.7 L513.1,289.3 Z" fill="#000"/>
<rect x="512.1" y="228.1" width="1" height="61.2" fill="#8a8a8a"/>
<rect x="512.1" y="258.7" width="1.1" height="30.6" fill="#333"/>
<rect x="392.2" y="228.1" width="1" height="61.2" fill="#555"/>
<rect x="392.2" y="288.7" width="120.9" height="1.2" fill="#111"/>
<rect x="390.7" y="227.7" width="1.5" height="0.8" fill="#666"/>
<rect x="390.7" y="243.0" width="1.5" height="0.8" fill="#666"/>
<rect x="390.7" y="258.3" width="1.5" height="0.8" fill="#666"/>
<rect x="390.7" y="273.6" width="1.5" height="0.8" fill="#666"/>
<rect x="390.7" y="288.9" width="1.5" height="0.8" fill="#666"/>
<text class="t" font-size="4.6" transform="translate(389.7,229.3) rotate(-90)" text-anchor="middle">256</text>
<text class="t" font-size="4.8" transform="translate(389.7,289.3) rotate(-90)" text-anchor="middle">0</text>
<text class="t" font-size="4.8" x="392.9" y="295.1" text-anchor="middle">0</text>
<text class="t" font-size="4.8" x="513.7" y="295.1" text-anchor="end">1023</text>
<text font-size="8.2" transform="translate(385.6,260.7) rotate(-90)" text-anchor="middle">Events</text>
<text font-size="8.6" x="454.4" y="303.5" text-anchor="middle">PI</text>
<text font-size="8" x="454.9" y="231.2">G0</text>
<text font-size="8" x="503.6" y="231.2" text-anchor="end">1.0%</text>
<text font-size="8" x="454.9" y="241.2">sub-G1</text>
<text font-size="8" x="503.6" y="241.2" text-anchor="end">1.5%</text>
<text font-size="8" x="454.9" y="251.1">G1</text>
<text font-size="8" x="503.6" y="251.1" text-anchor="end">42.9%</text>
<text font-size="8" x="454.9" y="261.1">S</text>
<text font-size="8" x="503.6" y="261.1" text-anchor="end">21.3%</text>
<text font-size="8" x="454.9" y="271.0">G2/M</text>
<text font-size="8" x="503.6" y="271.0" text-anchor="end">30.3%</text>
<path d="M393.0,380.4 L393.0,379.7 L393.5,379.6 L394.0,379.9 L394.5,379.7 L395.0,379.7 L395.5,379.7 L396.0,379.9 L396.5,379.9 L397.0,379.6 L397.5,380.0 L398.0,379.7 L398.5,379.7 L399.0,379.9 L399.5,379.9 L400.0,379.8 L400.5,379.8 L401.0,379.6 L401.5,380.0 L402.0,379.7 L402.5,380.0 L403.0,379.8 L403.5,379.8 L404.0,379.6 L404.5,380.0 L405.0,380.0 L405.5,380.0 L406.0,380.0 L406.5,380.0 L407.0,379.7 L407.5,379.8 L408.0,379.8 L408.5,380.0 L409.0,379.9 L409.5,379.6 L410.0,380.0 L410.5,379.8 L411.0,379.7 L411.5,379.8 L412.0,379.8 L412.5,379.9 L413.0,379.9 L413.5,379.8 L414.0,379.8 L414.5,379.9 L415.0,379.7 L415.5,379.6 L416.0,379.9 L416.5,379.9 L417.0,379.8 L417.5,379.6 L418.0,379.3 L418.5,378.9 L419.0,378.2 L419.5,377.2 L420.0,374.8 L420.5,373.4 L421.0,371.1 L421.5,364.9 L422.0,360.9 L422.5,354.8 L423.0,351.6 L423.5,346.1 L424.0,343.4 L424.4,342.2 L424.5,342.8 L425.0,343.5 L425.5,347.6 L426.0,353.2 L426.5,357.9 L427.0,363.7 L427.5,366.3 L428.0,370.2 L428.5,373.0 L429.0,375.8 L429.5,376.8 L430.0,377.7 L430.5,377.4 L431.0,376.3 L431.5,377.6 L432.0,376.4 L432.5,377.4 L433.0,376.9 L433.5,376.4 L434.0,376.7 L434.5,376.7 L435.0,377.6 L435.5,377.2 L436.0,377.0 L436.5,377.0 L437.0,377.1 L437.5,377.3 L438.0,377.1 L438.5,376.5 L439.0,376.2 L439.5,376.3 L440.0,377.2 L440.5,377.0 L441.0,377.9 L441.5,376.3 L442.0,376.5 L442.5,376.8 L443.0,376.9 L443.5,377.7 L444.0,376.8 L444.5,377.1 L445.0,376.5 L445.5,377.7 L446.0,376.7 L446.5,377.3 L447.0,377.9 L447.5,377.8 L448.0,377.2 L448.5,377.9 L449.0,378.0 L449.5,377.9 L450.0,378.0 L450.5,378.1 L451.0,377.2 L451.5,377.2 L452.0,377.2 L452.5,376.8 L453.0,376.2 L453.5,376.1 L454.0,374.8 L454.5,375.8 L455.0,375.7 L455.4,375.2 L455.5,375.0 L456.0,374.8 L456.5,375.2 L457.0,375.6 L457.5,376.4 L458.0,377.2 L458.5,377.6 L459.0,376.4 L459.5,376.8 L460.0,373.4 L460.2,373.6 L460.5,372.8 L461.0,376.8 L461.5,376.0 L462.0,377.6 L462.5,376.3 L463.0,377.1 L463.5,377.2 L464.0,377.3 L464.5,377.0 L465.0,376.8 L465.5,376.8 L466.0,377.9 L466.5,377.7 L467.0,378.3 L467.5,378.5 L468.0,379.0 L468.5,379.2 L469.0,379.2 L469.5,379.3 L470.0,379.4 L470.5,379.2 L471.0,379.4 L471.5,379.4 L472.0,379.3 L472.5,379.3 L473.0,379.3 L473.5,379.4 L474.0,379.0 L474.5,379.5 L475.0,379.5 L475.5,379.5 L476.0,379.6 L476.5,379.2 L477.0,379.0 L477.5,379.5 L478.0,379.2 L478.5,379.2 L479.0,379.1 L479.5,379.0 L480.0,379.2 L480.5,379.2 L481.0,379.5 L481.5,379.5 L482.0,379.4 L482.5,379.3 L483.0,379.5 L483.5,379.5 L484.0,379.3 L484.5,379.4 L485.0,379.2 L485.5,379.1 L486.0,379.2 L486.5,379.5 L487.0,379.3 L487.5,379.1 L488.0,379.4 L488.5,379.2 L489.0,379.2 L489.5,379.0 L490.0,379.0 L490.5,379.1 L491.0,379.5 L491.5,379.5 L492.0,379.3 L492.5,379.4 L493.0,379.3 L493.5,379.5 L494.0,379.5 L494.5,379.2 L495.0,379.1 L495.5,379.4 L496.0,379.5 L496.5,379.4 L497.0,379.3 L497.5,379.1 L498.0,379.1 L498.5,379.0 L499.0,379.3 L499.5,379.2 L500.0,379.2 L500.5,379.4 L501.0,379.3 L501.5,379.4 L502.0,379.1 L502.5,379.1 L503.0,379.2 L503.5,379.5 L504.0,379.0 L504.5,379.1 L505.0,379.6 L505.5,379.1 L506.0,379.5 L506.5,379.4 L507.0,379.4 L507.5,379.2 L508.0,379.6 L508.5,379.1 L509.0,379.3 L509.5,379.2 L510.0,379.5 L510.5,379.6 L511.0,379.6 L511.5,379.6 L512.0,379.8 L512.5,379.8 L513.0,379.9 L513.4,380.4 Z" fill="#000"/>
<rect x="512.4" y="337.6" width="1" height="42.8" fill="#8a8a8a"/>
<rect x="512.4" y="359.0" width="1.1" height="21.4" fill="#333"/>
<rect x="392.5" y="319.2" width="1" height="61.2" fill="#555"/>
<rect x="392.5" y="379.8" width="120.9" height="1.2" fill="#111"/>
<rect x="391.0" y="318.8" width="1.5" height="0.8" fill="#666"/>
<rect x="391.0" y="334.1" width="1.5" height="0.8" fill="#666"/>
<rect x="391.0" y="349.4" width="1.5" height="0.8" fill="#666"/>
<rect x="391.0" y="364.7" width="1.5" height="0.8" fill="#666"/>
<rect x="391.0" y="380.0" width="1.5" height="0.8" fill="#666"/>
<text class="t" font-size="4.6" transform="translate(390.0,320.4) rotate(-90)" text-anchor="middle">256</text>
<text class="t" font-size="4.8" transform="translate(390.0,380.4) rotate(-90)" text-anchor="middle">0</text>
<text class="t" font-size="4.8" x="393.2" y="386.2" text-anchor="middle">0</text>
<text class="t" font-size="4.8" x="514.0" y="386.2" text-anchor="end">1023</text>
<text font-size="8.2" transform="translate(385.6,351.8) rotate(-90)" text-anchor="middle">Events</text>
<text font-size="8.6" x="454.7" y="394.6" text-anchor="middle">PI</text>
<text font-size="8" x="454.9" y="325.0">G0</text>
<text font-size="8" x="504.2" y="325.0" text-anchor="end">1.5%</text>
<text font-size="8" x="454.9" y="334.9">sub-G1</text>
<text font-size="8" x="504.2" y="334.9" text-anchor="end">1.5%</text>
<text font-size="8" x="454.9" y="344.9">G1</text>
<text font-size="8" x="504.2" y="344.9" text-anchor="end">68.1%</text>
<text font-size="8" x="454.9" y="354.8">S</text>
<text font-size="8" x="504.2" y="354.8" text-anchor="end">13.8%</text>
<text font-size="8" x="454.9" y="364.8">G2/M</text>
<text font-size="8" x="504.2" y="364.8" text-anchor="end">15.7%</text>
<path d="M393.4,470.2 L393.4,469.8 L393.9,469.8 L394.4,469.8 L394.9,469.5 L395.4,469.3 L395.9,469.7 L396.4,469.7 L396.9,469.7 L397.4,469.4 L397.9,469.7 L398.4,469.6 L398.9,469.6 L399.4,469.8 L399.9,469.7 L400.4,469.4 L400.9,469.6 L401.4,469.3 L401.9,469.4 L402.4,469.8 L402.9,469.4 L403.4,469.5 L403.9,469.6 L404.4,469.8 L404.9,469.8 L405.4,469.4 L405.9,469.6 L406.4,469.7 L406.9,469.7 L407.4,469.7 L407.9,469.7 L408.4,469.7 L408.9,469.8 L409.4,469.4 L409.9,469.8 L410.4,469.6 L410.9,469.4 L411.4,469.7 L411.9,469.4 L412.4,469.7 L412.9,469.6 L413.4,469.7 L413.9,469.4 L414.4,469.5 L414.9,469.4 L415.4,469.5 L415.9,469.6 L416.4,468.9 L416.9,468.5 L417.4,467.0 L417.9,465.6 L418.4,462.1 L418.9,458.3 L419.4,457.4 L419.9,451.3 L420.4,445.5 L420.9,441.3 L421.4,437.8 L421.7,436.1 L421.9,437.6 L422.4,438.9 L422.9,445.5 L423.4,447.2 L423.9,454.8 L424.4,457.7 L424.9,460.3 L425.4,465.4 L425.9,464.9 L426.4,465.2 L426.9,465.4 L427.4,466.3 L427.9,466.0 L428.4,464.5 L428.9,465.1 L429.4,464.9 L429.9,465.9 L430.4,465.5 L430.9,465.3 L431.4,466.0 L431.9,464.8 L432.4,464.3 L432.9,465.0 L433.4,466.0 L433.9,465.6 L434.4,466.1 L434.9,464.8 L435.4,466.1 L435.9,465.9 L436.4,464.6 L436.9,465.1 L437.4,466.1 L437.9,464.8 L438.4,465.6 L438.9,464.7 L439.4,465.3 L439.9,465.5 L440.4,465.5 L440.9,465.8 L441.4,464.6 L441.9,466.1 L442.4,466.9 L442.9,465.6 L443.4,465.9 L443.9,466.6 L444.4,467.7 L444.9,467.3 L445.4,467.7 L445.9,467.8 L446.4,467.1 L446.9,465.9 L447.4,465.6 L447.9,464.8 L448.4,465.1 L448.9,462.7 L449.4,462.3 L449.9,461.9 L450.4,461.0 L450.6,463.3 L450.9,461.0 L451.4,461.1 L451.9,463.7 L452.4,462.6 L452.9,464.1 L453.4,465.7 L453.9,465.0 L454.4,466.3 L454.9,467.4 L455.4,467.5 L455.9,468.3 L456.4,468.6 L456.9,468.8 L457.4,469.3 L457.9,469.3 L458.4,469.4 L458.9,469.4 L459.4,469.2 L459.9,469.2 L460.4,468.9 L460.9,469.2 L461.4,469.1 L461.9,469.2 L462.4,468.7 L462.9,469.1 L463.4,468.7 L463.9,468.9 L464.4,468.8 L464.9,468.9 L465.4,469.1 L465.9,469.0 L466.4,469.1 L466.9,468.9 L467.4,469.0 L467.9,468.9 L468.4,468.9 L468.9,469.0 L469.4,468.7 L469.9,469.0 L470.4,468.9 L470.9,469.2 L471.4,469.2 L471.9,469.0 L472.4,469.0 L472.9,469.1 L473.4,469.1 L473.9,469.2 L474.4,468.7 L474.9,469.1 L475.4,469.2 L475.9,468.8 L476.4,468.9 L476.9,468.9 L477.4,469.1 L477.9,468.7 L478.4,468.6 L478.9,468.8 L479.4,469.2 L479.9,469.0 L480.4,468.7 L480.9,468.8 L481.4,468.7 L481.9,469.2 L482.4,468.9 L482.9,469.1 L483.4,469.0 L483.9,468.9 L484.4,468.8 L484.9,468.8 L485.4,468.9 L485.9,468.9 L486.4,469.0 L486.9,469.2 L487.4,469.1 L487.9,469.2 L488.4,468.9 L488.9,469.0 L489.4,468.8 L489.9,468.6 L490.4,469.2 L490.9,469.2 L491.4,468.9 L491.9,468.9 L492.4,468.7 L492.9,468.9 L493.4,469.2 L493.9,469.0 L494.4,468.8 L494.9,468.8 L495.4,469.2 L495.9,468.9 L496.4,469.2 L496.9,468.9 L497.4,469.3 L497.9,469.2 L498.4,468.8 L498.9,468.9 L499.4,469.0 L499.9,468.8 L500.4,468.9 L500.9,468.8 L501.4,469.0 L501.9,468.9 L502.4,468.7 L502.9,469.0 L503.4,468.7 L503.9,469.1 L504.4,469.1 L504.9,468.9 L505.4,469.1 L505.9,469.3 L506.4,469.0 L506.9,469.0 L507.4,469.1 L507.9,469.0 L508.4,469.0 L508.9,469.0 L509.4,469.1 L509.9,469.0 L510.4,469.1 L510.9,469.3 L511.4,469.0 L511.9,469.3 L512.4,469.3 L512.9,469.2 L513.4,469.4 L513.8,470.2 Z" fill="#000"/>
<rect x="512.8" y="409.2" width="1" height="61.0" fill="#8a8a8a"/>
<rect x="512.8" y="439.7" width="1.1" height="30.5" fill="#333"/>
<rect x="392.9" y="409.2" width="1" height="61.0" fill="#555"/>
<rect x="392.9" y="469.6" width="120.9" height="1.2" fill="#111"/>
<rect x="391.4" y="408.8" width="1.5" height="0.8" fill="#666"/>
<rect x="391.4" y="424.1" width="1.5" height="0.8" fill="#666"/>
<rect x="391.4" y="439.3" width="1.5" height="0.8" fill="#666"/>
<rect x="391.4" y="454.6" width="1.5" height="0.8" fill="#666"/>
<rect x="391.4" y="469.8" width="1.5" height="0.8" fill="#666"/>
<text class="t" font-size="4.6" transform="translate(390.4,410.4) rotate(-90)" text-anchor="middle">256</text>
<text class="t" font-size="4.8" transform="translate(390.4,470.2) rotate(-90)" text-anchor="middle">0</text>
<text class="t" font-size="4.8" x="393.6" y="476.0" text-anchor="middle">0</text>
<text class="t" font-size="4.8" x="514.4" y="476.0" text-anchor="end">1023</text>
<text font-size="8.2" transform="translate(385.6,441.7) rotate(-90)" text-anchor="middle">Events</text>
<text font-size="8.6" x="455.1" y="484.4" text-anchor="middle">PI</text>
<text font-size="8" x="455.8" y="418.1">G0</text>
<text font-size="8" x="504.9" y="418.1" text-anchor="end">1.4%</text>
<text font-size="8" x="455.8" y="428.0">sub-G1</text>
<text font-size="8" x="504.9" y="428.0" text-anchor="end">1.8%</text>
<text font-size="8" x="455.8" y="437.8">G1</text>
<text font-size="8" x="504.9" y="437.8" text-anchor="end">55.1%</text>
<text font-size="8" x="455.8" y="447.7">S</text>
<text font-size="8" x="504.9" y="447.7" text-anchor="end">17.2%</text>
<text font-size="8" x="455.8" y="457.5">G2/M</text>
<text font-size="8" x="504.9" y="457.5" text-anchor="end">24.2%</text>
<path d="M393.6,560.4 L393.6,559.8 L394.1,559.8 L394.6,559.7 L395.1,559.7 L395.6,559.9 L396.1,560.0 L396.6,559.9 L397.1,559.6 L397.6,559.6 L398.1,559.7 L398.6,559.8 L399.1,559.9 L399.6,559.9 L400.1,559.6 L400.6,559.8 L401.1,559.6 L401.6,560.0 L402.1,559.6 L402.6,559.8 L403.1,560.0 L403.6,559.8 L404.1,559.7 L404.6,560.0 L405.1,559.8 L405.6,559.8 L406.1,559.8 L406.6,559.8 L407.1,560.0 L407.6,559.8 L408.1,559.8 L408.6,559.8 L409.1,559.8 L409.6,559.6 L410.1,559.6 L410.6,560.0 L411.1,560.0 L411.6,559.7 L412.1,560.0 L412.6,559.5 L413.1,559.9 L413.6,559.8 L414.1,559.9 L414.6,559.4 L415.1,559.8 L415.6,559.6 L416.1,558.8 L416.6,558.3 L417.1,557.6 L417.6,554.0 L418.1,551.8 L418.6,548.8 L419.1,544.6 L419.6,538.1 L420.1,534.3 L420.6,529.4 L420.8,531.6 L421.1,530.3 L421.6,532.8 L422.1,538.7 L422.6,543.7 L423.1,549.0 L423.6,549.5 L424.1,554.1 L424.6,554.9 L425.1,554.9 L425.6,555.9 L426.1,554.4 L426.6,555.4 L427.1,554.0 L427.6,556.1 L428.1,555.6 L428.6,555.2 L429.1,555.6 L429.6,554.3 L430.1,555.6 L430.6,554.8 L431.1,554.1 L431.6,554.8 L432.1,553.7 L432.6,555.6 L433.1,553.9 L433.6,554.4 L434.1,554.1 L434.6,554.8 L435.1,554.2 L435.6,555.5 L436.1,555.2 L436.6,554.1 L437.1,556.1 L437.6,553.8 L438.1,553.6 L438.6,554.1 L439.1,555.8 L439.6,554.9 L440.1,554.7 L440.6,556.5 L441.1,557.1 L441.6,557.7 L442.1,557.8 L442.6,557.7 L443.1,557.5 L443.6,557.2 L444.1,556.4 L444.6,555.6 L445.1,553.7 L445.6,555.1 L446.1,554.0 L446.6,552.4 L447.1,551.6 L447.6,551.0 L447.7,553.3 L448.1,552.4 L448.6,552.3 L449.1,554.2 L449.6,555.1 L450.1,553.7 L450.6,554.8 L451.1,556.0 L451.6,557.1 L452.1,558.0 L452.6,558.5 L453.1,559.2 L453.6,559.3 L454.1,559.3 L454.6,559.5 L455.1,559.5 L455.6,559.5 L456.1,559.3 L456.6,559.5 L457.1,559.0 L457.6,559.3 L458.1,559.0 L458.6,559.1 L459.1,559.2 L459.6,559.2 L460.1,559.2 L460.6,558.9 L461.1,559.5 L461.6,559.1 L462.1,559.1 L462.6,559.2 L463.1,559.0 L463.6,559.5 L464.1,559.3 L464.6,558.8 L465.1,559.1 L465.6,559.0 L466.1,558.8 L466.6,558.9 L467.1,559.4 L467.6,559.3 L468.1,559.3 L468.6,559.2 L469.1,559.5 L469.6,559.6 L470.1,559.2 L470.6,559.4 L471.1,559.2 L471.6,559.5 L472.1,559.3 L472.6,559.3 L473.1,559.0 L473.6,559.2 L474.1,559.4 L474.6,559.0 L475.1,559.2 L475.6,559.0 L476.1,558.9 L476.6,559.3 L477.1,559.0 L477.6,558.9 L478.1,559.1 L478.6,559.1 L479.1,559.2 L479.6,559.4 L480.1,559.1 L480.6,559.2 L481.1,559.1 L481.6,559.1 L482.1,559.5 L482.6,559.3 L483.1,559.0 L483.6,559.1 L484.1,559.3 L484.6,559.0 L485.1,559.3 L485.6,559.1 L486.1,558.9 L486.6,559.2 L487.1,559.4 L487.6,559.1 L488.1,559.1 L488.6,559.2 L489.1,559.2 L489.6,559.0 L490.1,559.3 L490.6,558.9 L491.1,559.3 L491.6,559.5 L492.1,559.3 L492.6,559.1 L493.1,559.5 L493.6,559.2 L494.1,559.4 L494.6,559.1 L495.1,559.2 L495.6,559.5 L496.1,559.1 L496.6,559.3 L497.1,559.0 L497.6,558.9 L498.1,558.9 L498.6,559.3 L499.1,559.1 L499.6,559.0 L500.1,559.0 L500.6,559.4 L501.1,559.1 L501.6,559.1 L502.1,559.3 L502.6,559.4 L503.1,558.9 L503.6,559.1 L504.1,558.9 L504.6,559.0 L505.1,559.3 L505.6,559.5 L506.1,559.3 L506.6,559.5 L507.1,559.3 L507.6,559.3 L508.1,559.1 L508.6,559.0 L509.1,559.2 L509.6,559.4 L510.1,559.3 L510.6,559.4 L511.1,559.5 L511.6,559.3 L512.1,559.5 L512.6,559.5 L513.1,559.6 L513.6,559.7 L514.0,560.4 Z" fill="#000"/>
<rect x="513.0" y="499.2" width="1" height="61.2" fill="#8a8a8a"/>
<rect x="513.0" y="529.8" width="1.1" height="30.6" fill="#333"/>
<rect x="393.1" y="499.2" width="1" height="61.2" fill="#555"/>
<rect x="393.1" y="559.8" width="120.9" height="1.2" fill="#111"/>
<rect x="391.6" y="498.8" width="1.5" height="0.8" fill="#666"/>
<rect x="391.6" y="514.1" width="1.5" height="0.8" fill="#666"/>
<rect x="391.6" y="529.4" width="1.5" height="0.8" fill="#666"/>
<rect x="391.6" y="544.7" width="1.5" height="0.8" fill="#666"/>
<rect x="391.6" y="560.0" width="1.5" height="0.8" fill="#666"/>
<text class="t" font-size="4.6" transform="translate(390.6,500.4) rotate(-90)" text-anchor="middle">256</text>
<text class="t" font-size="4.8" transform="translate(390.6,560.4) rotate(-90)" text-anchor="middle">0</text>
<text class="t" font-size="4.8" x="393.8" y="566.2" text-anchor="middle">0</text>
<text class="t" font-size="4.8" x="514.6" y="566.2" text-anchor="end">1023</text>
<text font-size="8.2" transform="translate(385.6,531.8) rotate(-90)" text-anchor="middle">Events</text>
<text font-size="8.6" x="455.3" y="574.6" text-anchor="middle">PI</text>
<text font-size="8" x="456.1" y="507.5">G0</text>
<text font-size="8" x="505.2" y="507.5" text-anchor="end">1.4%</text>
<text font-size="8" x="456.1" y="517.2">sub-G1</text>
<text font-size="8" x="505.2" y="517.2" text-anchor="end">1.5%</text>
<text font-size="8" x="456.1" y="527.0">G1</text>
<text font-size="8" x="505.2" y="527.0" text-anchor="end">50.1%</text>
<text font-size="8" x="456.1" y="536.8">S</text>
<text font-size="8" x="505.2" y="536.8" text-anchor="end">18.7%</text>
<text font-size="8" x="456.1" y="546.5">G2/M</text>
<text font-size="8" x="505.2" y="546.5" text-anchor="end">27.2%</text>
<rect x="98.2" y="611.5" width="1.4" height="194.7" fill="#111"/>
<rect x="98.2" y="804.6" width="270.5" height="1.7" fill="#111"/>
<text font-size="10.5" x="95.8" y="617.8" text-anchor="end">60</text>
<text font-size="10.5" x="95.8" y="650.0" text-anchor="end">50</text>
<text font-size="10.5" x="95.8" y="682.2" text-anchor="end">40</text>
<text font-size="10.5" x="95.8" y="714.6" text-anchor="end">30</text>
<text font-size="10.5" x="95.8" y="747.3" text-anchor="end">20</text>
<text font-size="10.5" x="95.8" y="779.0" text-anchor="end">10</text>
<text font-size="10.5" x="95.8" y="805.9" text-anchor="end">0</text>
<text font-size="13.5" transform="translate(74.6,708) rotate(-90)" text-anchor="middle">% Annexin V + PI- cells</text>
<rect x="103.4" y="737.3" width="12.4" height="68.1" fill="#000"/>
<clipPath id="c_control"><rect x="115.80" y="790.70" width="11.90" height="14.70"/></clipPath>
<rect x="115.80" y="790.70" width="11.90" height="14.70" fill="#fff"/>
<path d="M96.90,790.70 L111.60,805.40 M99.60,790.70 L114.30,805.40 M102.30,790.70 L117.00,805.40 M105.00,790.70 L119.70,805.40 M107.70,790.70 L122.40,805.40 M110.40,790.70 L125.10,805.40 M113.10,790.70 L127.80,805.40 M115.80,790.70 L130.50,805.40 M118.50,790.70 L133.20,805.40 M121.20,790.70 L135.90,805.40 M123.90,790.70 L138.60,805.40 M126.60,790.70 L141.30,805.40" stroke="#1a1a1a" stroke-width="0.95" clip-path="url(#c_control)" fill="none"/>
<rect x="115.80" y="790.70" width="11.90" height="14.70" fill="none" stroke="#222" stroke-width="1"/>
<rect x="128.0" y="785.8" width="11.8" height="19.6" fill="#fff" stroke="#222" stroke-width="1"/>
<text font-size="10.5" x="127.0" y="819.7" text-anchor="middle">control</text>
<rect x="148.1" y="659.5" width="12.4" height="145.9" fill="#000"/>
<clipPath id="c_Dex"><rect x="160.50" y="784.60" width="11.90" height="20.80"/></clipPath>
<rect x="160.50" y="784.60" width="11.90" height="20.80" fill="#fff"/>
<path d="M136.20,784.60 L157.00,805.40 M138.90,784.60 L159.70,805.40 M141.60,784.60 L162.40,805.40 M144.30,784.60 L165.10,805.40 M147.00,784.60 L167.80,805.40 M149.70,784.60 L170.50,805.40 M152.40,784.60 L173.20,805.40 M155.10,784.60 L175.90,805.40 M157.80,784.60 L178.60,805.40 M160.50,784.60 L181.30,805.40 M163.20,784.60 L184.00,805.40 M165.90,784.60 L186.70,805.40 M168.60,784.60 L189.40,805.40 M171.30,784.60 L192.10,805.40" stroke="#1a1a1a" stroke-width="0.95" clip-path="url(#c_Dex)" fill="none"/>
<rect x="160.50" y="784.60" width="11.90" height="20.80" fill="none" stroke="#222" stroke-width="1"/>
<rect x="172.7" y="789.6" width="11.8" height="15.8" fill="#fff" stroke="#222" stroke-width="1"/>
<text font-size="10.5" x="170.1" y="819.7" text-anchor="middle">Dex</text>
<rect x="193.0" y="699.6" width="12.4" height="105.8" fill="#000"/>
<clipPath id="c_Thal"><rect x="205.40" y="790.50" width="11.90" height="14.90"/></clipPath>
<rect x="205.40" y="790.50" width="11.90" height="14.90" fill="#fff"/>
<path d="M186.50,790.50 L201.40,805.40 M189.20,790.50 L204.10,805.40 M191.90,790.50 L206.80,805.40 M194.60,790.50 L209.50,805.40 M197.30,790.50 L212.20,805.40 M200.00,790.50 L214.90,805.40 M202.70,790.50 L217.60,805.40 M205.40,790.50 L220.30,805.40 M208.10,790.50 L223.00,805.40 M210.80,790.50 L225.70,805.40 M213.50,790.50 L228.40,805.40 M216.20,790.50 L231.10,805.40" stroke="#1a1a1a" stroke-width="0.95" clip-path="url(#c_Thal)" fill="none"/>
<rect x="205.40" y="790.50" width="11.90" height="14.90" fill="none" stroke="#222" stroke-width="1"/>
<rect x="217.6" y="787.5" width="11.8" height="17.9" fill="#fff" stroke="#222" stroke-width="1"/>
<text font-size="10.5" x="214.7" y="819.7" text-anchor="middle">Thal</text>
<rect x="238.0" y="624.1" width="12.4" height="181.3" fill="#000"/>
<clipPath id="c_IMiD1"><rect x="250.40" y="789.50" width="11.90" height="15.90"/></clipPath>
<rect x="250.40" y="789.50" width="11.90" height="15.90" fill="#fff"/>
<path d="M231.50,789.50 L247.40,805.40 M234.20,789.50 L250.10,805.40 M236.90,789.50 L252.80,805.40 M239.60,789.50 L255.50,805.40 M242.30,789.50 L258.20,805.40 M245.00,789.50 L260.90,805.40 M247.70,789.50 L263.60,805.40 M250.40,789.50 L266.30,805.40 M253.10,789.50 L269.00,805.40 M255.80,789.50 L271.70,805.40 M258.50,789.50 L274.40,805.40 M261.20,789.50 L277.10,805.40" stroke="#1a1a1a" stroke-width="0.95" clip-path="url(#c_IMiD1)" fill="none"/>
<rect x="250.40" y="789.50" width="11.90" height="15.90" fill="none" stroke="#222" stroke-width="1"/>
<rect x="262.6" y="790.5" width="11.8" height="14.9" fill="#fff" stroke="#222" stroke-width="1"/>
<text font-size="10.5" x="259.5" y="819.7" text-anchor="middle">IMiD1</text>
<rect x="282.6" y="638.3" width="12.4" height="167.1" fill="#000"/>
<clipPath id="c_IMiD2"><rect x="295.00" y="788.90" width="11.90" height="16.50"/></clipPath>
<rect x="295.00" y="788.90" width="11.90" height="16.50" fill="#fff"/>
<path d="M273.40,788.90 L289.90,805.40 M276.10,788.90 L292.60,805.40 M278.80,788.90 L295.30,805.40 M281.50,788.90 L298.00,805.40 M284.20,788.90 L300.70,805.40 M286.90,788.90 L303.40,805.40 M289.60,788.90 L306.10,805.40 M292.30,788.90 L308.80,805.40 M295.00,788.90 L311.50,805.40 M297.70,788.90 L314.20,805.40 M300.40,788.90 L316.90,805.40 M303.10,788.90 L319.60,805.40 M305.80,788.90 L322.30,805.40" stroke="#1a1a1a" stroke-width="0.95" clip-path="url(#c_IMiD2)" fill="none"/>
<rect x="295.00" y="788.90" width="11.90" height="16.50" fill="none" stroke="#222" stroke-width="1"/>
<rect x="307.2" y="792.2" width="11.8" height="13.2" fill="#fff" stroke="#222" stroke-width="1"/>
<text font-size="10.5" x="305.1" y="819.7" text-anchor="middle">IMiD2</text>
<rect x="327.5" y="662.9" width="12.4" height="142.5" fill="#000"/>
<clipPath id="c_IMiD3"><rect x="339.90" y="791.80" width="11.90" height="13.60"/></clipPath>
<rect x="339.90" y="791.80" width="11.90" height="13.60" fill="#fff"/>
<path d="M321.00,791.80 L334.60,805.40 M323.70,791.80 L337.30,805.40 M326.40,791.80 L340.00,805.40 M329.10,791.80 L342.70,805.40 M331.80,791.80 L345.40,805.40 M334.50,791.80 L348.10,805.40 M337.20,791.80 L350.80,805.40 M339.90,791.80 L353.50,805.40 M342.60,791.80 L356.20,805.40 M345.30,791.80 L358.90,805.40 M348.00,791.80 L361.60,805.40 M350.70,791.80 L364.30,805.40" stroke="#1a1a1a" stroke-width="0.95" clip-path="url(#c_IMiD3)" fill="none"/>
<rect x="339.90" y="791.80" width="11.90" height="13.60" fill="none" stroke="#222" stroke-width="1"/>
<rect x="352.1" y="791.2" width="11.8" height="14.2" fill="#fff" stroke="#222" stroke-width="1"/>
<text font-size="10.5" x="349.9" y="819.7" text-anchor="middle">IMiD3</text>
</svg>
</body></html>
